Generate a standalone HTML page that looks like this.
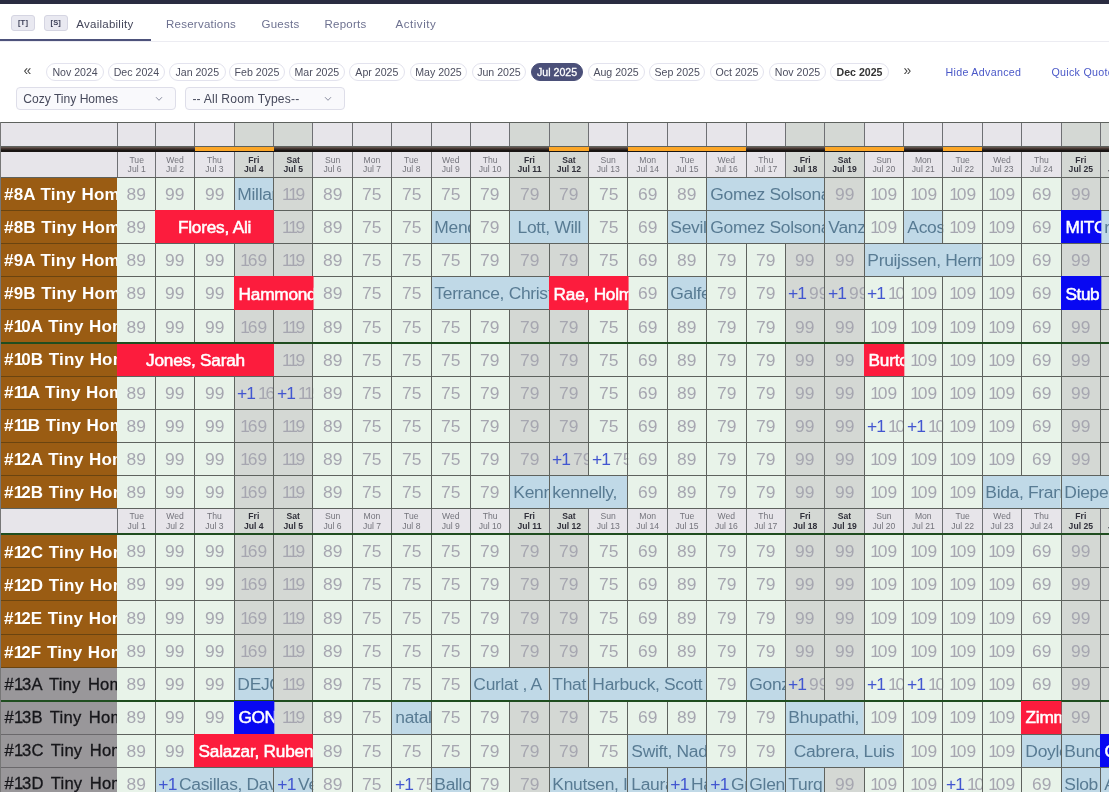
<!DOCTYPE html>
<html lang="en"><head><meta charset="utf-8"><title>Availability</title>
<style>
html,body{margin:0;padding:0;background:#fff}
body{width:1109px;height:792px;overflow:hidden;position:relative;font-family:"Liberation Sans",Arial,sans-serif;color:#333}
div,span,a{box-sizing:border-box}
.abs,.c,.p,.res,.lab,.hc,.vl,.hl,.we,.pill,.tab{position:absolute}
#topbar{left:0;top:0;width:1109px;height:3.5px;background:#2a2c41}
.kbd{position:absolute;top:15px;height:16px;border:1px solid #d5d5e2;border-radius:3px;background:#e9e9f1;font-size:7.5px;font-weight:bold;color:#3a3d55;text-align:center;line-height:14px;letter-spacing:.2px}
.tab{top:15.5px;letter-spacing:.25px;font-size:11.5px;line-height:16px;color:#6d7190;white-space:nowrap}
.tab.on{color:#44465a}
#tabline{left:0;top:41px;width:1109px;height:1px;background:#ececf2}
#tabul{left:0;top:39px;width:151px;height:2.4px;background:#4d527b}
.pill{top:63px;height:18px;border:1px solid #e3e3ee;border-radius:9px;font-size:10.6px;line-height:16.5px;color:#4d4f60;text-align:center;white-space:nowrap;background:#fff}
.pill.on{background:#4b5079;border-color:#4b5079;color:#fff;-webkit-text-stroke:.3px #fff}
.pill.b{font-weight:bold;color:#333}
.nav{position:absolute;top:61.2px;font-size:14px;line-height:18px;color:#444}
.lnk{position:absolute;top:63.8px;font-size:10.7px;letter-spacing:.3px;line-height:16px;color:#4a58c8;white-space:nowrap}
.sel{position:absolute;top:86.5px;height:23.5px;border:1px solid #dedee9;border-radius:4px;background:#f9f9fc;font-size:12.1px;line-height:23px;color:#474a5c;padding-left:6px;white-space:nowrap}
.sel svg{position:absolute;top:8px}
#grid{left:0;top:0;width:1109px;height:792px;overflow:hidden}
.c{background:#e8f3e9;overflow:hidden}
.p{font-size:16px;color:#a6a6b0;text-align:center;white-space:nowrap;overflow:hidden;line-height:1;transform-origin:0 0;transform:scaleX(1.09)}
.p b{font-weight:normal;color:#4256d0;letter-spacing:-.8px}
.p u{text-decoration:none;letter-spacing:-2.1px}
.p b u,.res.b i u{letter-spacing:-2.6px}
.res{overflow:hidden;white-space:nowrap;font-size:16px;line-height:1;padding-left:3.1px;transform-origin:0 0;transform:scaleX(1.09)}
.res.b{background:#c0d9e7;color:#587b93;letter-spacing:-.3px}
.res.b i{font-style:normal;color:#4256d0;letter-spacing:-.8px}
.res u{text-decoration:none;letter-spacing:-2.1px}
.res.r{background:#fc1c3d;color:#fff;font-size:15.8px;letter-spacing:-.2px;-webkit-text-stroke:.5px #fff}
.res.d{background:#0808f2;color:#fff;font-size:15.8px;letter-spacing:-.4px;-webkit-text-stroke:.5px #fff}
.res.ctr{text-align:center;padding-left:0}
.res.r,.res.d{padding-left:4.2px}
.res.r.ctr{padding-left:0}
.lab{left:0;width:117px;overflow:hidden;white-space:nowrap;font-weight:bold;font-size:17px;color:#fff;background:#9a5c13;padding-left:4px;line-height:17.5px;word-spacing:.5px;letter-spacing:.2px}
.lab u{text-decoration:none;letter-spacing:-1.9px}
.lab.g u{letter-spacing:-1.2px}
.lab.g{background:#99979a;color:#16161a;font-weight:normal;font-size:16.6px;line-height:17.5px;-webkit-text-stroke:.3px #16161a;word-spacing:2.6px;letter-spacing:.2px;padding-left:4.6px}
.hc{background:#e7e5ea;text-align:center;font-size:8.6px;line-height:9.9px;color:#74747c;overflow:hidden;white-space:nowrap}
.hc.w{font-weight:bold;color:#30303a;background:#d4d8d4}
.vl{width:1px;background:#5e625e}
.hl{left:0;width:1109px;height:1px;background:#5e625e}
.hl.t{height:2px;background:#1f4d1f}
.we{background:#d4d8d4}
</style></head><body>

<div class="abs" id="topbar"></div>
<div class="kbd" style="left:11px;width:24px">[T]</div>
<div class="kbd" style="left:43.5px;width:24.5px">[S]</div>
<div class="tab on" style="left:76.3px">Availability</div>
<div class="tab" style="left:166px">Reservations</div>
<div class="tab" style="left:261.5px">Guests</div>
<div class="tab" style="left:324.5px">Reports</div>
<div class="tab" style="left:395.5px;letter-spacing:.55px">Activity</div>
<div class="abs" id="tabline"></div><div class="abs" id="tabul"></div>
<div class="nav" style="left:23.5px">&laquo;</div>
<div class="pill " style="left:46px;width:58.2px">Nov 2024</div>
<div class="pill " style="left:107.8px;width:57.2px">Dec 2024</div>
<div class="pill " style="left:168.7px;width:57.1px">Jan 2025</div>
<div class="pill " style="left:229.3px;width:55.4px">Feb 2025</div>
<div class="pill " style="left:289px;width:55.7px">Mar 2025</div>
<div class="pill " style="left:349px;width:55.7px">Apr 2025</div>
<div class="pill " style="left:409.6px;width:57.7px">May 2025</div>
<div class="pill " style="left:471.5px;width:54.9px">Jun 2025</div>
<div class="pill on" style="left:530.7px;width:52.8px">Jul 2025</div>
<div class="pill " style="left:587.5px;width:57.2px">Aug 2025</div>
<div class="pill " style="left:649px;width:56.3px">Sep 2025</div>
<div class="pill " style="left:709.6px;width:54.8px">Oct 2025</div>
<div class="pill " style="left:769px;width:57px">Nov 2025</div>
<div class="pill b" style="left:829.8px;width:59.4px">Dec 2025</div>
<div class="nav" style="left:903.5px">&raquo;</div>
<div class="lnk" style="left:945.5px">Hide Advanced</div>
<div class="lnk" style="left:1051.4px">Quick Quote</div>
<div class="sel" style="left:16.2px;width:160.2px">Cozy Tiny Homes<svg width="8" height="6" viewBox="0 0 8 6" style="left:138px"><path d="M1 1.2 L4 4.3 L7 1.2" fill="none" stroke="#8a8da0" stroke-width="1"/></svg></div>
<div class="sel" style="left:185.4px;width:160px;letter-spacing:.2px">-- All Room Types--<svg width="8" height="6" viewBox="0 0 8 6" style="left:138px"><path d="M1 1.2 L4 4.3 L7 1.2" fill="none" stroke="#8a8da0" stroke-width="1"/></svg></div>
<div class="abs" id="grid">
<div class="hc" style="left:0;top:122.3px;width:1109px;height:24.2px"></div>
<div class="we" style="left:234.14px;top:122.3px;width:39.38px;height:24.2px"></div>
<div class="we" style="left:273.52px;top:122.3px;width:39.38px;height:24.2px"></div>
<div class="we" style="left:509.8px;top:122.3px;width:39.38px;height:24.2px"></div>
<div class="we" style="left:549.18px;top:122.3px;width:39.38px;height:24.2px"></div>
<div class="we" style="left:785.46px;top:122.3px;width:39.38px;height:24.2px"></div>
<div class="we" style="left:824.84px;top:122.3px;width:39.38px;height:24.2px"></div>
<div class="we" style="left:1061.12px;top:122.3px;width:39.38px;height:24.2px"></div>
<div class="we" style="left:1100.5px;top:122.3px;width:39.38px;height:24.2px"></div>
<div class="abs" style="left:0;top:146.2px;width:1109px;height:5.4px;background:linear-gradient(#8a7b74 0%,#4a3b35 40%,#191513 75%,#191513 100%)"></div>
<div class="abs" style="left:194.76px;top:146.5px;width:39.38px;height:4.8px;background:#fba628"></div>
<div class="abs" style="left:234.14px;top:146.5px;width:39.38px;height:4.8px;background:#fba628"></div>
<div class="abs" style="left:549.18px;top:146.5px;width:39.38px;height:4.8px;background:#fba628"></div>
<div class="abs" style="left:627.94px;top:146.5px;width:39.38px;height:4.8px;background:#fba628"></div>
<div class="abs" style="left:667.32px;top:146.5px;width:39.38px;height:4.8px;background:#fba628"></div>
<div class="abs" style="left:706.7px;top:146.5px;width:39.38px;height:4.8px;background:#fba628"></div>
<div class="abs" style="left:824.84px;top:146.5px;width:39.38px;height:4.8px;background:#fba628"></div>
<div class="abs" style="left:864.22px;top:146.5px;width:39.38px;height:4.8px;background:#fba628"></div>
<div class="abs" style="left:942.98px;top:146.5px;width:39.38px;height:4.8px;background:#fba628"></div>
<div class="hc" style="left:0;top:151.6px;width:117px;height:25.9px"></div>
<div class="hc" style="left:117px;top:151.6px;width:39.38px;height:25.9px;padding-top:3.95px">Tue<br>Jul 1</div>
<div class="hc" style="left:155.38px;top:151.6px;width:39.38px;height:25.9px;padding-top:3.95px">Wed<br>Jul 2</div>
<div class="hc" style="left:194.76px;top:151.6px;width:39.38px;height:25.9px;padding-top:3.95px">Thu<br>Jul 3</div>
<div class="hc w" style="left:234.14px;top:151.6px;width:39.38px;height:25.9px;padding-top:3.95px">Fri<br>Jul 4</div>
<div class="hc w" style="left:273.52px;top:151.6px;width:39.38px;height:25.9px;padding-top:3.95px">Sat<br>Jul 5</div>
<div class="hc" style="left:312.9px;top:151.6px;width:39.38px;height:25.9px;padding-top:3.95px">Sun<br>Jul 6</div>
<div class="hc" style="left:352.28px;top:151.6px;width:39.38px;height:25.9px;padding-top:3.95px">Mon<br>Jul 7</div>
<div class="hc" style="left:391.66px;top:151.6px;width:39.38px;height:25.9px;padding-top:3.95px">Tue<br>Jul 8</div>
<div class="hc" style="left:431.04px;top:151.6px;width:39.38px;height:25.9px;padding-top:3.95px">Wed<br>Jul 9</div>
<div class="hc" style="left:470.42px;top:151.6px;width:39.38px;height:25.9px;padding-top:3.95px">Thu<br>Jul 10</div>
<div class="hc w" style="left:509.8px;top:151.6px;width:39.38px;height:25.9px;padding-top:3.95px">Fri<br>Jul 11</div>
<div class="hc w" style="left:549.18px;top:151.6px;width:39.38px;height:25.9px;padding-top:3.95px">Sat<br>Jul 12</div>
<div class="hc" style="left:588.56px;top:151.6px;width:39.38px;height:25.9px;padding-top:3.95px">Sun<br>Jul 13</div>
<div class="hc" style="left:627.94px;top:151.6px;width:39.38px;height:25.9px;padding-top:3.95px">Mon<br>Jul 14</div>
<div class="hc" style="left:667.32px;top:151.6px;width:39.38px;height:25.9px;padding-top:3.95px">Tue<br>Jul 15</div>
<div class="hc" style="left:706.7px;top:151.6px;width:39.38px;height:25.9px;padding-top:3.95px">Wed<br>Jul 16</div>
<div class="hc" style="left:746.08px;top:151.6px;width:39.38px;height:25.9px;padding-top:3.95px">Thu<br>Jul 17</div>
<div class="hc w" style="left:785.46px;top:151.6px;width:39.38px;height:25.9px;padding-top:3.95px">Fri<br>Jul 18</div>
<div class="hc w" style="left:824.84px;top:151.6px;width:39.38px;height:25.9px;padding-top:3.95px">Sat<br>Jul 19</div>
<div class="hc" style="left:864.22px;top:151.6px;width:39.38px;height:25.9px;padding-top:3.95px">Sun<br>Jul 20</div>
<div class="hc" style="left:903.6px;top:151.6px;width:39.38px;height:25.9px;padding-top:3.95px">Mon<br>Jul 21</div>
<div class="hc" style="left:942.98px;top:151.6px;width:39.38px;height:25.9px;padding-top:3.95px">Tue<br>Jul 22</div>
<div class="hc" style="left:982.36px;top:151.6px;width:39.38px;height:25.9px;padding-top:3.95px">Wed<br>Jul 23</div>
<div class="hc" style="left:1021.74px;top:151.6px;width:39.38px;height:25.9px;padding-top:3.95px">Thu<br>Jul 24</div>
<div class="hc w" style="left:1061.12px;top:151.6px;width:39.38px;height:25.9px;padding-top:3.95px">Fri<br>Jul 25</div>
<div class="hc w" style="left:1100.5px;top:151.6px;width:39.38px;height:25.9px;padding-top:3.95px">Sat<br>Jul 26</div>
<div class="hc" style="left:0;top:508.6px;width:117px;height:25.7px"></div>
<div class="hc" style="left:117px;top:508.6px;width:39.38px;height:25.7px;padding-top:3.85px">Tue<br>Jul 1</div>
<div class="hc" style="left:155.38px;top:508.6px;width:39.38px;height:25.7px;padding-top:3.85px">Wed<br>Jul 2</div>
<div class="hc" style="left:194.76px;top:508.6px;width:39.38px;height:25.7px;padding-top:3.85px">Thu<br>Jul 3</div>
<div class="hc w" style="left:234.14px;top:508.6px;width:39.38px;height:25.7px;padding-top:3.85px">Fri<br>Jul 4</div>
<div class="hc w" style="left:273.52px;top:508.6px;width:39.38px;height:25.7px;padding-top:3.85px">Sat<br>Jul 5</div>
<div class="hc" style="left:312.9px;top:508.6px;width:39.38px;height:25.7px;padding-top:3.85px">Sun<br>Jul 6</div>
<div class="hc" style="left:352.28px;top:508.6px;width:39.38px;height:25.7px;padding-top:3.85px">Mon<br>Jul 7</div>
<div class="hc" style="left:391.66px;top:508.6px;width:39.38px;height:25.7px;padding-top:3.85px">Tue<br>Jul 8</div>
<div class="hc" style="left:431.04px;top:508.6px;width:39.38px;height:25.7px;padding-top:3.85px">Wed<br>Jul 9</div>
<div class="hc" style="left:470.42px;top:508.6px;width:39.38px;height:25.7px;padding-top:3.85px">Thu<br>Jul 10</div>
<div class="hc w" style="left:509.8px;top:508.6px;width:39.38px;height:25.7px;padding-top:3.85px">Fri<br>Jul 11</div>
<div class="hc w" style="left:549.18px;top:508.6px;width:39.38px;height:25.7px;padding-top:3.85px">Sat<br>Jul 12</div>
<div class="hc" style="left:588.56px;top:508.6px;width:39.38px;height:25.7px;padding-top:3.85px">Sun<br>Jul 13</div>
<div class="hc" style="left:627.94px;top:508.6px;width:39.38px;height:25.7px;padding-top:3.85px">Mon<br>Jul 14</div>
<div class="hc" style="left:667.32px;top:508.6px;width:39.38px;height:25.7px;padding-top:3.85px">Tue<br>Jul 15</div>
<div class="hc" style="left:706.7px;top:508.6px;width:39.38px;height:25.7px;padding-top:3.85px">Wed<br>Jul 16</div>
<div class="hc" style="left:746.08px;top:508.6px;width:39.38px;height:25.7px;padding-top:3.85px">Thu<br>Jul 17</div>
<div class="hc w" style="left:785.46px;top:508.6px;width:39.38px;height:25.7px;padding-top:3.85px">Fri<br>Jul 18</div>
<div class="hc w" style="left:824.84px;top:508.6px;width:39.38px;height:25.7px;padding-top:3.85px">Sat<br>Jul 19</div>
<div class="hc" style="left:864.22px;top:508.6px;width:39.38px;height:25.7px;padding-top:3.85px">Sun<br>Jul 20</div>
<div class="hc" style="left:903.6px;top:508.6px;width:39.38px;height:25.7px;padding-top:3.85px">Mon<br>Jul 21</div>
<div class="hc" style="left:942.98px;top:508.6px;width:39.38px;height:25.7px;padding-top:3.85px">Tue<br>Jul 22</div>
<div class="hc" style="left:982.36px;top:508.6px;width:39.38px;height:25.7px;padding-top:3.85px">Wed<br>Jul 23</div>
<div class="hc" style="left:1021.74px;top:508.6px;width:39.38px;height:25.7px;padding-top:3.85px">Thu<br>Jul 24</div>
<div class="hc w" style="left:1061.12px;top:508.6px;width:39.38px;height:25.7px;padding-top:3.85px">Fri<br>Jul 25</div>
<div class="hc w" style="left:1100.5px;top:508.6px;width:39.38px;height:25.7px;padding-top:3.85px">Sat<br>Jul 26</div>
<div class="lab" style="top:177.5px;height:33.11px;padding-top:8.21px">#8A Tiny Home</div>
<div class="c" style="left:117px;top:177.5px;width:992px;height:33.11px"></div>
<div class="we" style="left:234.14px;top:177.5px;width:39.38px;height:33.11px"></div>
<div class="we" style="left:273.52px;top:177.5px;width:39.38px;height:33.11px"></div>
<div class="we" style="left:509.8px;top:177.5px;width:39.38px;height:33.11px"></div>
<div class="we" style="left:549.18px;top:177.5px;width:39.38px;height:33.11px"></div>
<div class="we" style="left:785.46px;top:177.5px;width:39.38px;height:33.11px"></div>
<div class="we" style="left:824.84px;top:177.5px;width:39.38px;height:33.11px"></div>
<div class="we" style="left:1061.12px;top:177.5px;width:39.38px;height:33.11px"></div>
<div class="we" style="left:1100.5px;top:177.5px;width:39.38px;height:33.11px"></div>
<div class="p" style="left:117px;top:187.1px;width:35.21px">89</div>
<div class="p" style="left:155.38px;top:187.1px;width:36.13px">99</div>
<div class="p" style="left:194.76px;top:187.1px;width:36.13px">99</div>
<div class="p" style="left:273.52px;top:187.1px;width:36.13px"><u>1</u><u>1</u>9</div>
<div class="p" style="left:312.9px;top:187.1px;width:36.13px">89</div>
<div class="p" style="left:352.28px;top:187.1px;width:36.13px">75</div>
<div class="p" style="left:391.66px;top:187.1px;width:36.13px">75</div>
<div class="p" style="left:431.04px;top:187.1px;width:36.13px">75</div>
<div class="p" style="left:470.42px;top:187.1px;width:36.13px">79</div>
<div class="p" style="left:509.8px;top:187.1px;width:36.13px">79</div>
<div class="p" style="left:549.18px;top:187.1px;width:36.13px">79</div>
<div class="p" style="left:588.56px;top:187.1px;width:36.13px">75</div>
<div class="p" style="left:627.94px;top:187.1px;width:36.13px">69</div>
<div class="p" style="left:667.32px;top:187.1px;width:36.13px">89</div>
<div class="p" style="left:824.84px;top:187.1px;width:36.13px">99</div>
<div class="p" style="left:864.22px;top:187.1px;width:36.13px"><u>1</u>09</div>
<div class="p" style="left:903.6px;top:187.1px;width:36.13px"><u>1</u>09</div>
<div class="p" style="left:942.98px;top:187.1px;width:36.13px"><u>1</u>09</div>
<div class="p" style="left:982.36px;top:187.1px;width:36.13px"><u>1</u>09</div>
<div class="p" style="left:1021.74px;top:187.1px;width:36.13px">69</div>
<div class="p" style="left:1061.12px;top:187.1px;width:36.13px">99</div>
<div class="p" style="left:1100.5px;top:187.1px;width:36.13px">99</div>
<div class="res b" style="left:234.14px;top:177.5px;width:36.13px;height:33.11px;padding-top:9.6px">Millar</div>
<div class="res b" style="left:706.7px;top:177.5px;width:108.39px;height:33.11px;padding-top:9.6px">Gomez Solsona</div>
<div class="lab" style="top:210.61px;height:33.11px;padding-top:8.21px">#8B Tiny Home</div>
<div class="c" style="left:117px;top:210.61px;width:992px;height:33.11px"></div>
<div class="we" style="left:234.14px;top:210.61px;width:39.38px;height:33.11px"></div>
<div class="we" style="left:273.52px;top:210.61px;width:39.38px;height:33.11px"></div>
<div class="we" style="left:509.8px;top:210.61px;width:39.38px;height:33.11px"></div>
<div class="we" style="left:549.18px;top:210.61px;width:39.38px;height:33.11px"></div>
<div class="we" style="left:785.46px;top:210.61px;width:39.38px;height:33.11px"></div>
<div class="we" style="left:824.84px;top:210.61px;width:39.38px;height:33.11px"></div>
<div class="we" style="left:1061.12px;top:210.61px;width:39.38px;height:33.11px"></div>
<div class="we" style="left:1100.5px;top:210.61px;width:39.38px;height:33.11px"></div>
<div class="p" style="left:117px;top:220.21px;width:35.21px">89</div>
<div class="p" style="left:273.52px;top:220.21px;width:36.13px"><u>1</u><u>1</u>9</div>
<div class="p" style="left:312.9px;top:220.21px;width:36.13px">89</div>
<div class="p" style="left:352.28px;top:220.21px;width:36.13px">75</div>
<div class="p" style="left:391.66px;top:220.21px;width:36.13px">75</div>
<div class="p" style="left:470.42px;top:220.21px;width:36.13px">79</div>
<div class="p" style="left:588.56px;top:220.21px;width:36.13px">75</div>
<div class="p" style="left:627.94px;top:220.21px;width:36.13px">69</div>
<div class="p" style="left:864.22px;top:220.21px;width:36.13px"><u>1</u>09</div>
<div class="p" style="left:942.98px;top:220.21px;width:36.13px"><u>1</u>09</div>
<div class="p" style="left:982.36px;top:220.21px;width:36.13px"><u>1</u>09</div>
<div class="p" style="left:1021.74px;top:220.21px;width:36.13px">69</div>
<div class="res b" style="left:431.04px;top:210.61px;width:36.13px;height:33.11px;padding-top:9.6px">Mendez</div>
<div class="res b ctr" style="left:509.8px;top:210.61px;width:72.26px;height:33.11px;padding-top:9.6px">Lott, Will</div>
<div class="res b" style="left:667.32px;top:210.61px;width:36.13px;height:33.11px;padding-top:9.6px">Sevilla</div>
<div class="res b" style="left:706.7px;top:210.61px;width:108.39px;height:33.11px;padding-top:9.6px">Gomez Solsona</div>
<div class="res b" style="left:824.84px;top:210.61px;width:36.13px;height:33.11px;padding-top:9.6px">Vanzant</div>
<div class="res b" style="left:903.6px;top:210.61px;width:36.13px;height:33.11px;padding-top:9.6px">Acosta</div>
<div class="res b" style="left:1100.5px;top:210.61px;width:36.13px;height:33.11px;padding-top:9.6px">ramos</div>
<div class="lab" style="top:243.72px;height:33.11px;padding-top:8.21px">#9A Tiny Home</div>
<div class="c" style="left:117px;top:243.72px;width:992px;height:33.11px"></div>
<div class="we" style="left:234.14px;top:243.72px;width:39.38px;height:33.11px"></div>
<div class="we" style="left:273.52px;top:243.72px;width:39.38px;height:33.11px"></div>
<div class="we" style="left:509.8px;top:243.72px;width:39.38px;height:33.11px"></div>
<div class="we" style="left:549.18px;top:243.72px;width:39.38px;height:33.11px"></div>
<div class="we" style="left:785.46px;top:243.72px;width:39.38px;height:33.11px"></div>
<div class="we" style="left:824.84px;top:243.72px;width:39.38px;height:33.11px"></div>
<div class="we" style="left:1061.12px;top:243.72px;width:39.38px;height:33.11px"></div>
<div class="we" style="left:1100.5px;top:243.72px;width:39.38px;height:33.11px"></div>
<div class="p" style="left:117px;top:253.32px;width:35.21px">89</div>
<div class="p" style="left:155.38px;top:253.32px;width:36.13px">99</div>
<div class="p" style="left:194.76px;top:253.32px;width:36.13px">99</div>
<div class="p" style="left:234.14px;top:253.32px;width:36.13px"><u>1</u>69</div>
<div class="p" style="left:273.52px;top:253.32px;width:36.13px"><u>1</u><u>1</u>9</div>
<div class="p" style="left:312.9px;top:253.32px;width:36.13px">89</div>
<div class="p" style="left:352.28px;top:253.32px;width:36.13px">75</div>
<div class="p" style="left:391.66px;top:253.32px;width:36.13px">75</div>
<div class="p" style="left:431.04px;top:253.32px;width:36.13px">75</div>
<div class="p" style="left:470.42px;top:253.32px;width:36.13px">79</div>
<div class="p" style="left:509.8px;top:253.32px;width:36.13px">79</div>
<div class="p" style="left:549.18px;top:253.32px;width:36.13px">79</div>
<div class="p" style="left:588.56px;top:253.32px;width:36.13px">75</div>
<div class="p" style="left:627.94px;top:253.32px;width:36.13px">69</div>
<div class="p" style="left:667.32px;top:253.32px;width:36.13px">89</div>
<div class="p" style="left:706.7px;top:253.32px;width:36.13px">79</div>
<div class="p" style="left:746.08px;top:253.32px;width:36.13px">79</div>
<div class="p" style="left:785.46px;top:253.32px;width:36.13px">99</div>
<div class="p" style="left:824.84px;top:253.32px;width:36.13px">99</div>
<div class="p" style="left:982.36px;top:253.32px;width:36.13px"><u>1</u>09</div>
<div class="p" style="left:1021.74px;top:253.32px;width:36.13px">69</div>
<div class="p" style="left:1061.12px;top:253.32px;width:36.13px">99</div>
<div class="p" style="left:1100.5px;top:253.32px;width:36.13px">99</div>
<div class="res b" style="left:864.22px;top:243.72px;width:108.39px;height:33.11px;padding-top:9.6px">Pruijssen, Herman</div>
<div class="lab" style="top:276.83px;height:33.11px;padding-top:8.21px">#9B Tiny Home</div>
<div class="c" style="left:117px;top:276.83px;width:992px;height:33.11px"></div>
<div class="we" style="left:234.14px;top:276.83px;width:39.38px;height:33.11px"></div>
<div class="we" style="left:273.52px;top:276.83px;width:39.38px;height:33.11px"></div>
<div class="we" style="left:509.8px;top:276.83px;width:39.38px;height:33.11px"></div>
<div class="we" style="left:549.18px;top:276.83px;width:39.38px;height:33.11px"></div>
<div class="we" style="left:785.46px;top:276.83px;width:39.38px;height:33.11px"></div>
<div class="we" style="left:824.84px;top:276.83px;width:39.38px;height:33.11px"></div>
<div class="we" style="left:1061.12px;top:276.83px;width:39.38px;height:33.11px"></div>
<div class="we" style="left:1100.5px;top:276.83px;width:39.38px;height:33.11px"></div>
<div class="p" style="left:117px;top:286.43px;width:35.21px">89</div>
<div class="p" style="left:155.38px;top:286.43px;width:36.13px">99</div>
<div class="p" style="left:194.76px;top:286.43px;width:36.13px">99</div>
<div class="p" style="left:312.9px;top:286.43px;width:36.13px">89</div>
<div class="p" style="left:352.28px;top:286.43px;width:36.13px">75</div>
<div class="p" style="left:391.66px;top:286.43px;width:36.13px">75</div>
<div class="p" style="left:627.94px;top:286.43px;width:36.13px">69</div>
<div class="p" style="left:706.7px;top:286.43px;width:36.13px">79</div>
<div class="p" style="left:746.08px;top:286.43px;width:36.13px">79</div>
<div class="p" style="left:785.46px;top:286.43px;width:36.13px;text-align:left;padding-left:2.8px"><b>+<u>1</u></b> 99</div>
<div class="p" style="left:824.84px;top:286.43px;width:36.13px;text-align:left;padding-left:2.8px"><b>+<u>1</u></b> 99</div>
<div class="p" style="left:864.22px;top:286.43px;width:36.13px;text-align:left;padding-left:2.8px"><b>+<u>1</u></b> <u>1</u>09</div>
<div class="p" style="left:903.6px;top:286.43px;width:36.13px"><u>1</u>09</div>
<div class="p" style="left:942.98px;top:286.43px;width:36.13px"><u>1</u>09</div>
<div class="p" style="left:982.36px;top:286.43px;width:36.13px"><u>1</u>09</div>
<div class="p" style="left:1021.74px;top:286.43px;width:36.13px">69</div>
<div class="p" style="left:1100.5px;top:286.43px;width:36.13px">99</div>
<div class="res b" style="left:431.04px;top:276.83px;width:108.39px;height:33.11px;padding-top:9.6px">Terrance, Christopher</div>
<div class="res b" style="left:667.32px;top:276.83px;width:36.13px;height:33.11px;padding-top:9.6px">Galfetti</div>
<div class="lab" style="top:309.94px;height:33.11px;padding-top:8.21px">#<u>1</u>0A Tiny Home</div>
<div class="c" style="left:117px;top:309.94px;width:992px;height:33.11px"></div>
<div class="we" style="left:234.14px;top:309.94px;width:39.38px;height:33.11px"></div>
<div class="we" style="left:273.52px;top:309.94px;width:39.38px;height:33.11px"></div>
<div class="we" style="left:509.8px;top:309.94px;width:39.38px;height:33.11px"></div>
<div class="we" style="left:549.18px;top:309.94px;width:39.38px;height:33.11px"></div>
<div class="we" style="left:785.46px;top:309.94px;width:39.38px;height:33.11px"></div>
<div class="we" style="left:824.84px;top:309.94px;width:39.38px;height:33.11px"></div>
<div class="we" style="left:1061.12px;top:309.94px;width:39.38px;height:33.11px"></div>
<div class="we" style="left:1100.5px;top:309.94px;width:39.38px;height:33.11px"></div>
<div class="p" style="left:117px;top:319.54px;width:35.21px">89</div>
<div class="p" style="left:155.38px;top:319.54px;width:36.13px">99</div>
<div class="p" style="left:194.76px;top:319.54px;width:36.13px">99</div>
<div class="p" style="left:234.14px;top:319.54px;width:36.13px"><u>1</u>69</div>
<div class="p" style="left:273.52px;top:319.54px;width:36.13px"><u>1</u><u>1</u>9</div>
<div class="p" style="left:312.9px;top:319.54px;width:36.13px">89</div>
<div class="p" style="left:352.28px;top:319.54px;width:36.13px">75</div>
<div class="p" style="left:391.66px;top:319.54px;width:36.13px">75</div>
<div class="p" style="left:431.04px;top:319.54px;width:36.13px">75</div>
<div class="p" style="left:470.42px;top:319.54px;width:36.13px">79</div>
<div class="p" style="left:509.8px;top:319.54px;width:36.13px">79</div>
<div class="p" style="left:549.18px;top:319.54px;width:36.13px">79</div>
<div class="p" style="left:588.56px;top:319.54px;width:36.13px">75</div>
<div class="p" style="left:627.94px;top:319.54px;width:36.13px">69</div>
<div class="p" style="left:667.32px;top:319.54px;width:36.13px">89</div>
<div class="p" style="left:706.7px;top:319.54px;width:36.13px">79</div>
<div class="p" style="left:746.08px;top:319.54px;width:36.13px">79</div>
<div class="p" style="left:785.46px;top:319.54px;width:36.13px">99</div>
<div class="p" style="left:824.84px;top:319.54px;width:36.13px">99</div>
<div class="p" style="left:864.22px;top:319.54px;width:36.13px"><u>1</u>09</div>
<div class="p" style="left:903.6px;top:319.54px;width:36.13px"><u>1</u>09</div>
<div class="p" style="left:942.98px;top:319.54px;width:36.13px"><u>1</u>09</div>
<div class="p" style="left:982.36px;top:319.54px;width:36.13px"><u>1</u>09</div>
<div class="p" style="left:1021.74px;top:319.54px;width:36.13px">69</div>
<div class="p" style="left:1061.12px;top:319.54px;width:36.13px">99</div>
<div class="p" style="left:1100.5px;top:319.54px;width:36.13px">99</div>
<div class="lab" style="top:343.05px;height:33.11px;padding-top:8.21px">#<u>1</u>0B Tiny Home</div>
<div class="c" style="left:117px;top:343.05px;width:992px;height:33.11px"></div>
<div class="we" style="left:234.14px;top:343.05px;width:39.38px;height:33.11px"></div>
<div class="we" style="left:273.52px;top:343.05px;width:39.38px;height:33.11px"></div>
<div class="we" style="left:509.8px;top:343.05px;width:39.38px;height:33.11px"></div>
<div class="we" style="left:549.18px;top:343.05px;width:39.38px;height:33.11px"></div>
<div class="we" style="left:785.46px;top:343.05px;width:39.38px;height:33.11px"></div>
<div class="we" style="left:824.84px;top:343.05px;width:39.38px;height:33.11px"></div>
<div class="we" style="left:1061.12px;top:343.05px;width:39.38px;height:33.11px"></div>
<div class="we" style="left:1100.5px;top:343.05px;width:39.38px;height:33.11px"></div>
<div class="p" style="left:273.52px;top:352.65px;width:36.13px"><u>1</u><u>1</u>9</div>
<div class="p" style="left:312.9px;top:352.65px;width:36.13px">89</div>
<div class="p" style="left:352.28px;top:352.65px;width:36.13px">75</div>
<div class="p" style="left:391.66px;top:352.65px;width:36.13px">75</div>
<div class="p" style="left:431.04px;top:352.65px;width:36.13px">75</div>
<div class="p" style="left:470.42px;top:352.65px;width:36.13px">79</div>
<div class="p" style="left:509.8px;top:352.65px;width:36.13px">79</div>
<div class="p" style="left:549.18px;top:352.65px;width:36.13px">79</div>
<div class="p" style="left:588.56px;top:352.65px;width:36.13px">75</div>
<div class="p" style="left:627.94px;top:352.65px;width:36.13px">69</div>
<div class="p" style="left:667.32px;top:352.65px;width:36.13px">89</div>
<div class="p" style="left:706.7px;top:352.65px;width:36.13px">79</div>
<div class="p" style="left:746.08px;top:352.65px;width:36.13px">79</div>
<div class="p" style="left:785.46px;top:352.65px;width:36.13px">99</div>
<div class="p" style="left:824.84px;top:352.65px;width:36.13px">99</div>
<div class="p" style="left:903.6px;top:352.65px;width:36.13px"><u>1</u>09</div>
<div class="p" style="left:942.98px;top:352.65px;width:36.13px"><u>1</u>09</div>
<div class="p" style="left:982.36px;top:352.65px;width:36.13px"><u>1</u>09</div>
<div class="p" style="left:1021.74px;top:352.65px;width:36.13px">69</div>
<div class="p" style="left:1061.12px;top:352.65px;width:36.13px">99</div>
<div class="p" style="left:1100.5px;top:352.65px;width:36.13px">99</div>
<div class="lab" style="top:376.16px;height:33.11px;padding-top:8.21px">#<u>1</u><u>1</u>A Tiny Home</div>
<div class="c" style="left:117px;top:376.16px;width:992px;height:33.11px"></div>
<div class="we" style="left:234.14px;top:376.16px;width:39.38px;height:33.11px"></div>
<div class="we" style="left:273.52px;top:376.16px;width:39.38px;height:33.11px"></div>
<div class="we" style="left:509.8px;top:376.16px;width:39.38px;height:33.11px"></div>
<div class="we" style="left:549.18px;top:376.16px;width:39.38px;height:33.11px"></div>
<div class="we" style="left:785.46px;top:376.16px;width:39.38px;height:33.11px"></div>
<div class="we" style="left:824.84px;top:376.16px;width:39.38px;height:33.11px"></div>
<div class="we" style="left:1061.12px;top:376.16px;width:39.38px;height:33.11px"></div>
<div class="we" style="left:1100.5px;top:376.16px;width:39.38px;height:33.11px"></div>
<div class="p" style="left:117px;top:385.76px;width:35.21px">89</div>
<div class="p" style="left:155.38px;top:385.76px;width:36.13px">99</div>
<div class="p" style="left:194.76px;top:385.76px;width:36.13px">99</div>
<div class="p" style="left:234.14px;top:385.76px;width:36.13px;text-align:left;padding-left:2.8px"><b>+<u>1</u></b> <u>1</u>69</div>
<div class="p" style="left:273.52px;top:385.76px;width:36.13px;text-align:left;padding-left:2.8px"><b>+<u>1</u></b> <u>1</u><u>1</u>9</div>
<div class="p" style="left:312.9px;top:385.76px;width:36.13px">89</div>
<div class="p" style="left:352.28px;top:385.76px;width:36.13px">75</div>
<div class="p" style="left:391.66px;top:385.76px;width:36.13px">75</div>
<div class="p" style="left:431.04px;top:385.76px;width:36.13px">75</div>
<div class="p" style="left:470.42px;top:385.76px;width:36.13px">79</div>
<div class="p" style="left:509.8px;top:385.76px;width:36.13px">79</div>
<div class="p" style="left:549.18px;top:385.76px;width:36.13px">79</div>
<div class="p" style="left:588.56px;top:385.76px;width:36.13px">75</div>
<div class="p" style="left:627.94px;top:385.76px;width:36.13px">69</div>
<div class="p" style="left:667.32px;top:385.76px;width:36.13px">89</div>
<div class="p" style="left:706.7px;top:385.76px;width:36.13px">79</div>
<div class="p" style="left:746.08px;top:385.76px;width:36.13px">79</div>
<div class="p" style="left:785.46px;top:385.76px;width:36.13px">99</div>
<div class="p" style="left:824.84px;top:385.76px;width:36.13px">99</div>
<div class="p" style="left:864.22px;top:385.76px;width:36.13px"><u>1</u>09</div>
<div class="p" style="left:903.6px;top:385.76px;width:36.13px"><u>1</u>09</div>
<div class="p" style="left:942.98px;top:385.76px;width:36.13px"><u>1</u>09</div>
<div class="p" style="left:982.36px;top:385.76px;width:36.13px"><u>1</u>09</div>
<div class="p" style="left:1021.74px;top:385.76px;width:36.13px">69</div>
<div class="p" style="left:1061.12px;top:385.76px;width:36.13px">99</div>
<div class="p" style="left:1100.5px;top:385.76px;width:36.13px">99</div>
<div class="lab" style="top:409.27px;height:33.11px;padding-top:8.21px">#<u>1</u><u>1</u>B Tiny Home</div>
<div class="c" style="left:117px;top:409.27px;width:992px;height:33.11px"></div>
<div class="we" style="left:234.14px;top:409.27px;width:39.38px;height:33.11px"></div>
<div class="we" style="left:273.52px;top:409.27px;width:39.38px;height:33.11px"></div>
<div class="we" style="left:509.8px;top:409.27px;width:39.38px;height:33.11px"></div>
<div class="we" style="left:549.18px;top:409.27px;width:39.38px;height:33.11px"></div>
<div class="we" style="left:785.46px;top:409.27px;width:39.38px;height:33.11px"></div>
<div class="we" style="left:824.84px;top:409.27px;width:39.38px;height:33.11px"></div>
<div class="we" style="left:1061.12px;top:409.27px;width:39.38px;height:33.11px"></div>
<div class="we" style="left:1100.5px;top:409.27px;width:39.38px;height:33.11px"></div>
<div class="p" style="left:117px;top:418.87px;width:35.21px">89</div>
<div class="p" style="left:155.38px;top:418.87px;width:36.13px">99</div>
<div class="p" style="left:194.76px;top:418.87px;width:36.13px">99</div>
<div class="p" style="left:234.14px;top:418.87px;width:36.13px"><u>1</u>69</div>
<div class="p" style="left:273.52px;top:418.87px;width:36.13px"><u>1</u><u>1</u>9</div>
<div class="p" style="left:312.9px;top:418.87px;width:36.13px">89</div>
<div class="p" style="left:352.28px;top:418.87px;width:36.13px">75</div>
<div class="p" style="left:391.66px;top:418.87px;width:36.13px">75</div>
<div class="p" style="left:431.04px;top:418.87px;width:36.13px">75</div>
<div class="p" style="left:470.42px;top:418.87px;width:36.13px">79</div>
<div class="p" style="left:509.8px;top:418.87px;width:36.13px">79</div>
<div class="p" style="left:549.18px;top:418.87px;width:36.13px">79</div>
<div class="p" style="left:588.56px;top:418.87px;width:36.13px">75</div>
<div class="p" style="left:627.94px;top:418.87px;width:36.13px">69</div>
<div class="p" style="left:667.32px;top:418.87px;width:36.13px">89</div>
<div class="p" style="left:706.7px;top:418.87px;width:36.13px">79</div>
<div class="p" style="left:746.08px;top:418.87px;width:36.13px">79</div>
<div class="p" style="left:785.46px;top:418.87px;width:36.13px">99</div>
<div class="p" style="left:824.84px;top:418.87px;width:36.13px">99</div>
<div class="p" style="left:864.22px;top:418.87px;width:36.13px;text-align:left;padding-left:2.8px"><b>+<u>1</u></b> <u>1</u>09</div>
<div class="p" style="left:903.6px;top:418.87px;width:36.13px;text-align:left;padding-left:2.8px"><b>+<u>1</u></b> <u>1</u>09</div>
<div class="p" style="left:942.98px;top:418.87px;width:36.13px"><u>1</u>09</div>
<div class="p" style="left:982.36px;top:418.87px;width:36.13px"><u>1</u>09</div>
<div class="p" style="left:1021.74px;top:418.87px;width:36.13px">69</div>
<div class="p" style="left:1061.12px;top:418.87px;width:36.13px">99</div>
<div class="p" style="left:1100.5px;top:418.87px;width:36.13px">99</div>
<div class="lab" style="top:442.38px;height:33.11px;padding-top:8.21px">#<u>1</u>2A Tiny Home</div>
<div class="c" style="left:117px;top:442.38px;width:992px;height:33.11px"></div>
<div class="we" style="left:234.14px;top:442.38px;width:39.38px;height:33.11px"></div>
<div class="we" style="left:273.52px;top:442.38px;width:39.38px;height:33.11px"></div>
<div class="we" style="left:509.8px;top:442.38px;width:39.38px;height:33.11px"></div>
<div class="we" style="left:549.18px;top:442.38px;width:39.38px;height:33.11px"></div>
<div class="we" style="left:785.46px;top:442.38px;width:39.38px;height:33.11px"></div>
<div class="we" style="left:824.84px;top:442.38px;width:39.38px;height:33.11px"></div>
<div class="we" style="left:1061.12px;top:442.38px;width:39.38px;height:33.11px"></div>
<div class="we" style="left:1100.5px;top:442.38px;width:39.38px;height:33.11px"></div>
<div class="p" style="left:117px;top:451.98px;width:35.21px">89</div>
<div class="p" style="left:155.38px;top:451.98px;width:36.13px">99</div>
<div class="p" style="left:194.76px;top:451.98px;width:36.13px">99</div>
<div class="p" style="left:234.14px;top:451.98px;width:36.13px"><u>1</u>69</div>
<div class="p" style="left:273.52px;top:451.98px;width:36.13px"><u>1</u><u>1</u>9</div>
<div class="p" style="left:312.9px;top:451.98px;width:36.13px">89</div>
<div class="p" style="left:352.28px;top:451.98px;width:36.13px">75</div>
<div class="p" style="left:391.66px;top:451.98px;width:36.13px">75</div>
<div class="p" style="left:431.04px;top:451.98px;width:36.13px">75</div>
<div class="p" style="left:470.42px;top:451.98px;width:36.13px">79</div>
<div class="p" style="left:509.8px;top:451.98px;width:36.13px">79</div>
<div class="p" style="left:549.18px;top:451.98px;width:36.13px;text-align:left;padding-left:2.8px"><b>+<u>1</u></b> 79</div>
<div class="p" style="left:588.56px;top:451.98px;width:36.13px;text-align:left;padding-left:2.8px"><b>+<u>1</u></b> 75</div>
<div class="p" style="left:627.94px;top:451.98px;width:36.13px">69</div>
<div class="p" style="left:667.32px;top:451.98px;width:36.13px">89</div>
<div class="p" style="left:706.7px;top:451.98px;width:36.13px">79</div>
<div class="p" style="left:746.08px;top:451.98px;width:36.13px">79</div>
<div class="p" style="left:785.46px;top:451.98px;width:36.13px">99</div>
<div class="p" style="left:824.84px;top:451.98px;width:36.13px">99</div>
<div class="p" style="left:864.22px;top:451.98px;width:36.13px"><u>1</u>09</div>
<div class="p" style="left:903.6px;top:451.98px;width:36.13px"><u>1</u>09</div>
<div class="p" style="left:942.98px;top:451.98px;width:36.13px"><u>1</u>09</div>
<div class="p" style="left:982.36px;top:451.98px;width:36.13px"><u>1</u>09</div>
<div class="p" style="left:1021.74px;top:451.98px;width:36.13px">69</div>
<div class="p" style="left:1061.12px;top:451.98px;width:36.13px">99</div>
<div class="p" style="left:1100.5px;top:451.98px;width:36.13px">99</div>
<div class="lab" style="top:475.49px;height:33.11px;padding-top:8.21px">#<u>1</u>2B Tiny Home</div>
<div class="c" style="left:117px;top:475.49px;width:992px;height:33.11px"></div>
<div class="we" style="left:234.14px;top:475.49px;width:39.38px;height:33.11px"></div>
<div class="we" style="left:273.52px;top:475.49px;width:39.38px;height:33.11px"></div>
<div class="we" style="left:509.8px;top:475.49px;width:39.38px;height:33.11px"></div>
<div class="we" style="left:549.18px;top:475.49px;width:39.38px;height:33.11px"></div>
<div class="we" style="left:785.46px;top:475.49px;width:39.38px;height:33.11px"></div>
<div class="we" style="left:824.84px;top:475.49px;width:39.38px;height:33.11px"></div>
<div class="we" style="left:1061.12px;top:475.49px;width:39.38px;height:33.11px"></div>
<div class="we" style="left:1100.5px;top:475.49px;width:39.38px;height:33.11px"></div>
<div class="p" style="left:117px;top:485.09px;width:35.21px">89</div>
<div class="p" style="left:155.38px;top:485.09px;width:36.13px">99</div>
<div class="p" style="left:194.76px;top:485.09px;width:36.13px">99</div>
<div class="p" style="left:234.14px;top:485.09px;width:36.13px"><u>1</u>69</div>
<div class="p" style="left:273.52px;top:485.09px;width:36.13px"><u>1</u><u>1</u>9</div>
<div class="p" style="left:312.9px;top:485.09px;width:36.13px">89</div>
<div class="p" style="left:352.28px;top:485.09px;width:36.13px">75</div>
<div class="p" style="left:391.66px;top:485.09px;width:36.13px">75</div>
<div class="p" style="left:431.04px;top:485.09px;width:36.13px">75</div>
<div class="p" style="left:470.42px;top:485.09px;width:36.13px">79</div>
<div class="p" style="left:627.94px;top:485.09px;width:36.13px">69</div>
<div class="p" style="left:667.32px;top:485.09px;width:36.13px">89</div>
<div class="p" style="left:706.7px;top:485.09px;width:36.13px">79</div>
<div class="p" style="left:746.08px;top:485.09px;width:36.13px">79</div>
<div class="p" style="left:785.46px;top:485.09px;width:36.13px">99</div>
<div class="p" style="left:824.84px;top:485.09px;width:36.13px">99</div>
<div class="p" style="left:864.22px;top:485.09px;width:36.13px"><u>1</u>09</div>
<div class="p" style="left:903.6px;top:485.09px;width:36.13px"><u>1</u>09</div>
<div class="p" style="left:942.98px;top:485.09px;width:36.13px"><u>1</u>09</div>
<div class="res b" style="left:509.8px;top:475.49px;width:36.13px;height:33.11px;padding-top:9.6px">Kennelly</div>
<div class="res b" style="left:549.18px;top:475.49px;width:72.26px;height:33.11px;padding-top:9.6px">kennelly,</div>
<div class="res b" style="left:982.36px;top:475.49px;width:72.26px;height:33.11px;padding-top:9.6px">Bida, Frank</div>
<div class="res b" style="left:1061.12px;top:475.49px;width:72.26px;height:33.11px;padding-top:9.6px">Diepenbrock</div>
<div class="lab" style="top:534.3px;height:33.3px;padding-top:9.5px">#<u>1</u>2C Tiny Home</div>
<div class="c" style="left:117px;top:534.3px;width:992px;height:33.3px"></div>
<div class="we" style="left:234.14px;top:534.3px;width:39.38px;height:33.3px"></div>
<div class="we" style="left:273.52px;top:534.3px;width:39.38px;height:33.3px"></div>
<div class="we" style="left:509.8px;top:534.3px;width:39.38px;height:33.3px"></div>
<div class="we" style="left:549.18px;top:534.3px;width:39.38px;height:33.3px"></div>
<div class="we" style="left:785.46px;top:534.3px;width:39.38px;height:33.3px"></div>
<div class="we" style="left:824.84px;top:534.3px;width:39.38px;height:33.3px"></div>
<div class="we" style="left:1061.12px;top:534.3px;width:39.38px;height:33.3px"></div>
<div class="we" style="left:1100.5px;top:534.3px;width:39.38px;height:33.3px"></div>
<div class="p" style="left:117px;top:543.9px;width:35.21px">89</div>
<div class="p" style="left:155.38px;top:543.9px;width:36.13px">99</div>
<div class="p" style="left:194.76px;top:543.9px;width:36.13px">99</div>
<div class="p" style="left:234.14px;top:543.9px;width:36.13px"><u>1</u>69</div>
<div class="p" style="left:273.52px;top:543.9px;width:36.13px"><u>1</u><u>1</u>9</div>
<div class="p" style="left:312.9px;top:543.9px;width:36.13px">89</div>
<div class="p" style="left:352.28px;top:543.9px;width:36.13px">75</div>
<div class="p" style="left:391.66px;top:543.9px;width:36.13px">75</div>
<div class="p" style="left:431.04px;top:543.9px;width:36.13px">75</div>
<div class="p" style="left:470.42px;top:543.9px;width:36.13px">79</div>
<div class="p" style="left:509.8px;top:543.9px;width:36.13px">79</div>
<div class="p" style="left:549.18px;top:543.9px;width:36.13px">79</div>
<div class="p" style="left:588.56px;top:543.9px;width:36.13px">75</div>
<div class="p" style="left:627.94px;top:543.9px;width:36.13px">69</div>
<div class="p" style="left:667.32px;top:543.9px;width:36.13px">89</div>
<div class="p" style="left:706.7px;top:543.9px;width:36.13px">79</div>
<div class="p" style="left:746.08px;top:543.9px;width:36.13px">79</div>
<div class="p" style="left:785.46px;top:543.9px;width:36.13px">99</div>
<div class="p" style="left:824.84px;top:543.9px;width:36.13px">99</div>
<div class="p" style="left:864.22px;top:543.9px;width:36.13px"><u>1</u>09</div>
<div class="p" style="left:903.6px;top:543.9px;width:36.13px"><u>1</u>09</div>
<div class="p" style="left:942.98px;top:543.9px;width:36.13px"><u>1</u>09</div>
<div class="p" style="left:982.36px;top:543.9px;width:36.13px"><u>1</u>09</div>
<div class="p" style="left:1021.74px;top:543.9px;width:36.13px">69</div>
<div class="p" style="left:1061.12px;top:543.9px;width:36.13px">99</div>
<div class="p" style="left:1100.5px;top:543.9px;width:36.13px">99</div>
<div class="lab" style="top:567.6px;height:33.3px;padding-top:9.5px">#<u>1</u>2D Tiny Home</div>
<div class="c" style="left:117px;top:567.6px;width:992px;height:33.3px"></div>
<div class="we" style="left:234.14px;top:567.6px;width:39.38px;height:33.3px"></div>
<div class="we" style="left:273.52px;top:567.6px;width:39.38px;height:33.3px"></div>
<div class="we" style="left:509.8px;top:567.6px;width:39.38px;height:33.3px"></div>
<div class="we" style="left:549.18px;top:567.6px;width:39.38px;height:33.3px"></div>
<div class="we" style="left:785.46px;top:567.6px;width:39.38px;height:33.3px"></div>
<div class="we" style="left:824.84px;top:567.6px;width:39.38px;height:33.3px"></div>
<div class="we" style="left:1061.12px;top:567.6px;width:39.38px;height:33.3px"></div>
<div class="we" style="left:1100.5px;top:567.6px;width:39.38px;height:33.3px"></div>
<div class="p" style="left:117px;top:577.2px;width:35.21px">89</div>
<div class="p" style="left:155.38px;top:577.2px;width:36.13px">99</div>
<div class="p" style="left:194.76px;top:577.2px;width:36.13px">99</div>
<div class="p" style="left:234.14px;top:577.2px;width:36.13px"><u>1</u>69</div>
<div class="p" style="left:273.52px;top:577.2px;width:36.13px"><u>1</u><u>1</u>9</div>
<div class="p" style="left:312.9px;top:577.2px;width:36.13px">89</div>
<div class="p" style="left:352.28px;top:577.2px;width:36.13px">75</div>
<div class="p" style="left:391.66px;top:577.2px;width:36.13px">75</div>
<div class="p" style="left:431.04px;top:577.2px;width:36.13px">75</div>
<div class="p" style="left:470.42px;top:577.2px;width:36.13px">79</div>
<div class="p" style="left:509.8px;top:577.2px;width:36.13px">79</div>
<div class="p" style="left:549.18px;top:577.2px;width:36.13px">79</div>
<div class="p" style="left:588.56px;top:577.2px;width:36.13px">75</div>
<div class="p" style="left:627.94px;top:577.2px;width:36.13px">69</div>
<div class="p" style="left:667.32px;top:577.2px;width:36.13px">89</div>
<div class="p" style="left:706.7px;top:577.2px;width:36.13px">79</div>
<div class="p" style="left:746.08px;top:577.2px;width:36.13px">79</div>
<div class="p" style="left:785.46px;top:577.2px;width:36.13px">99</div>
<div class="p" style="left:824.84px;top:577.2px;width:36.13px">99</div>
<div class="p" style="left:864.22px;top:577.2px;width:36.13px"><u>1</u>09</div>
<div class="p" style="left:903.6px;top:577.2px;width:36.13px"><u>1</u>09</div>
<div class="p" style="left:942.98px;top:577.2px;width:36.13px"><u>1</u>09</div>
<div class="p" style="left:982.36px;top:577.2px;width:36.13px"><u>1</u>09</div>
<div class="p" style="left:1021.74px;top:577.2px;width:36.13px">69</div>
<div class="p" style="left:1061.12px;top:577.2px;width:36.13px">99</div>
<div class="p" style="left:1100.5px;top:577.2px;width:36.13px">99</div>
<div class="lab" style="top:600.9px;height:33.3px;padding-top:9.5px">#<u>1</u>2E Tiny Home</div>
<div class="c" style="left:117px;top:600.9px;width:992px;height:33.3px"></div>
<div class="we" style="left:234.14px;top:600.9px;width:39.38px;height:33.3px"></div>
<div class="we" style="left:273.52px;top:600.9px;width:39.38px;height:33.3px"></div>
<div class="we" style="left:509.8px;top:600.9px;width:39.38px;height:33.3px"></div>
<div class="we" style="left:549.18px;top:600.9px;width:39.38px;height:33.3px"></div>
<div class="we" style="left:785.46px;top:600.9px;width:39.38px;height:33.3px"></div>
<div class="we" style="left:824.84px;top:600.9px;width:39.38px;height:33.3px"></div>
<div class="we" style="left:1061.12px;top:600.9px;width:39.38px;height:33.3px"></div>
<div class="we" style="left:1100.5px;top:600.9px;width:39.38px;height:33.3px"></div>
<div class="p" style="left:117px;top:610.5px;width:35.21px">89</div>
<div class="p" style="left:155.38px;top:610.5px;width:36.13px">99</div>
<div class="p" style="left:194.76px;top:610.5px;width:36.13px">99</div>
<div class="p" style="left:234.14px;top:610.5px;width:36.13px"><u>1</u>69</div>
<div class="p" style="left:273.52px;top:610.5px;width:36.13px"><u>1</u><u>1</u>9</div>
<div class="p" style="left:312.9px;top:610.5px;width:36.13px">89</div>
<div class="p" style="left:352.28px;top:610.5px;width:36.13px">75</div>
<div class="p" style="left:391.66px;top:610.5px;width:36.13px">75</div>
<div class="p" style="left:431.04px;top:610.5px;width:36.13px">75</div>
<div class="p" style="left:470.42px;top:610.5px;width:36.13px">79</div>
<div class="p" style="left:509.8px;top:610.5px;width:36.13px">79</div>
<div class="p" style="left:549.18px;top:610.5px;width:36.13px">79</div>
<div class="p" style="left:588.56px;top:610.5px;width:36.13px">75</div>
<div class="p" style="left:627.94px;top:610.5px;width:36.13px">69</div>
<div class="p" style="left:667.32px;top:610.5px;width:36.13px">89</div>
<div class="p" style="left:706.7px;top:610.5px;width:36.13px">79</div>
<div class="p" style="left:746.08px;top:610.5px;width:36.13px">79</div>
<div class="p" style="left:785.46px;top:610.5px;width:36.13px">99</div>
<div class="p" style="left:824.84px;top:610.5px;width:36.13px">99</div>
<div class="p" style="left:864.22px;top:610.5px;width:36.13px"><u>1</u>09</div>
<div class="p" style="left:903.6px;top:610.5px;width:36.13px"><u>1</u>09</div>
<div class="p" style="left:942.98px;top:610.5px;width:36.13px"><u>1</u>09</div>
<div class="p" style="left:982.36px;top:610.5px;width:36.13px"><u>1</u>09</div>
<div class="p" style="left:1021.74px;top:610.5px;width:36.13px">69</div>
<div class="p" style="left:1061.12px;top:610.5px;width:36.13px">99</div>
<div class="p" style="left:1100.5px;top:610.5px;width:36.13px">99</div>
<div class="lab" style="top:634.2px;height:33.3px;padding-top:9.5px">#<u>1</u>2F Tiny Home</div>
<div class="c" style="left:117px;top:634.2px;width:992px;height:33.3px"></div>
<div class="we" style="left:234.14px;top:634.2px;width:39.38px;height:33.3px"></div>
<div class="we" style="left:273.52px;top:634.2px;width:39.38px;height:33.3px"></div>
<div class="we" style="left:509.8px;top:634.2px;width:39.38px;height:33.3px"></div>
<div class="we" style="left:549.18px;top:634.2px;width:39.38px;height:33.3px"></div>
<div class="we" style="left:785.46px;top:634.2px;width:39.38px;height:33.3px"></div>
<div class="we" style="left:824.84px;top:634.2px;width:39.38px;height:33.3px"></div>
<div class="we" style="left:1061.12px;top:634.2px;width:39.38px;height:33.3px"></div>
<div class="we" style="left:1100.5px;top:634.2px;width:39.38px;height:33.3px"></div>
<div class="p" style="left:117px;top:643.8px;width:35.21px">89</div>
<div class="p" style="left:155.38px;top:643.8px;width:36.13px">99</div>
<div class="p" style="left:194.76px;top:643.8px;width:36.13px">99</div>
<div class="p" style="left:234.14px;top:643.8px;width:36.13px"><u>1</u>69</div>
<div class="p" style="left:273.52px;top:643.8px;width:36.13px"><u>1</u><u>1</u>9</div>
<div class="p" style="left:312.9px;top:643.8px;width:36.13px">89</div>
<div class="p" style="left:352.28px;top:643.8px;width:36.13px">75</div>
<div class="p" style="left:391.66px;top:643.8px;width:36.13px">75</div>
<div class="p" style="left:431.04px;top:643.8px;width:36.13px">75</div>
<div class="p" style="left:470.42px;top:643.8px;width:36.13px">79</div>
<div class="p" style="left:509.8px;top:643.8px;width:36.13px">79</div>
<div class="p" style="left:549.18px;top:643.8px;width:36.13px">79</div>
<div class="p" style="left:588.56px;top:643.8px;width:36.13px">75</div>
<div class="p" style="left:627.94px;top:643.8px;width:36.13px">69</div>
<div class="p" style="left:667.32px;top:643.8px;width:36.13px">89</div>
<div class="p" style="left:706.7px;top:643.8px;width:36.13px">79</div>
<div class="p" style="left:746.08px;top:643.8px;width:36.13px">79</div>
<div class="p" style="left:785.46px;top:643.8px;width:36.13px">99</div>
<div class="p" style="left:824.84px;top:643.8px;width:36.13px">99</div>
<div class="p" style="left:864.22px;top:643.8px;width:36.13px"><u>1</u>09</div>
<div class="p" style="left:903.6px;top:643.8px;width:36.13px"><u>1</u>09</div>
<div class="p" style="left:942.98px;top:643.8px;width:36.13px"><u>1</u>09</div>
<div class="p" style="left:982.36px;top:643.8px;width:36.13px"><u>1</u>09</div>
<div class="p" style="left:1021.74px;top:643.8px;width:36.13px">69</div>
<div class="p" style="left:1061.12px;top:643.8px;width:36.13px">99</div>
<div class="p" style="left:1100.5px;top:643.8px;width:36.13px">99</div>
<div class="lab g" style="top:667.5px;height:33.3px;padding-top:8px">#<u>1</u>3A Tiny Home</div>
<div class="c" style="left:117px;top:667.5px;width:992px;height:33.3px"></div>
<div class="we" style="left:234.14px;top:667.5px;width:39.38px;height:33.3px"></div>
<div class="we" style="left:273.52px;top:667.5px;width:39.38px;height:33.3px"></div>
<div class="we" style="left:509.8px;top:667.5px;width:39.38px;height:33.3px"></div>
<div class="we" style="left:549.18px;top:667.5px;width:39.38px;height:33.3px"></div>
<div class="we" style="left:785.46px;top:667.5px;width:39.38px;height:33.3px"></div>
<div class="we" style="left:824.84px;top:667.5px;width:39.38px;height:33.3px"></div>
<div class="we" style="left:1061.12px;top:667.5px;width:39.38px;height:33.3px"></div>
<div class="we" style="left:1100.5px;top:667.5px;width:39.38px;height:33.3px"></div>
<div class="p" style="left:117px;top:677.1px;width:35.21px">89</div>
<div class="p" style="left:155.38px;top:677.1px;width:36.13px">99</div>
<div class="p" style="left:194.76px;top:677.1px;width:36.13px">99</div>
<div class="p" style="left:273.52px;top:677.1px;width:36.13px"><u>1</u><u>1</u>9</div>
<div class="p" style="left:312.9px;top:677.1px;width:36.13px">89</div>
<div class="p" style="left:352.28px;top:677.1px;width:36.13px">75</div>
<div class="p" style="left:391.66px;top:677.1px;width:36.13px">75</div>
<div class="p" style="left:431.04px;top:677.1px;width:36.13px">75</div>
<div class="p" style="left:706.7px;top:677.1px;width:36.13px">79</div>
<div class="p" style="left:785.46px;top:677.1px;width:36.13px;text-align:left;padding-left:2.8px"><b>+<u>1</u></b> 99</div>
<div class="p" style="left:824.84px;top:677.1px;width:36.13px">99</div>
<div class="p" style="left:864.22px;top:677.1px;width:36.13px;text-align:left;padding-left:2.8px"><b>+<u>1</u></b> <u>1</u>09</div>
<div class="p" style="left:903.6px;top:677.1px;width:36.13px;text-align:left;padding-left:2.8px"><b>+<u>1</u></b> <u>1</u>09</div>
<div class="p" style="left:942.98px;top:677.1px;width:36.13px"><u>1</u>09</div>
<div class="p" style="left:982.36px;top:677.1px;width:36.13px"><u>1</u>09</div>
<div class="p" style="left:1021.74px;top:677.1px;width:36.13px">69</div>
<div class="p" style="left:1061.12px;top:677.1px;width:36.13px">99</div>
<div class="p" style="left:1100.5px;top:677.1px;width:36.13px">99</div>
<div class="res b" style="left:234.14px;top:667.5px;width:36.13px;height:33.3px;padding-top:9.6px">DEJOY</div>
<div class="res b" style="left:470.42px;top:667.5px;width:72.26px;height:33.3px;padding-top:9.6px">Curlat , A</div>
<div class="res b" style="left:549.18px;top:667.5px;width:36.13px;height:33.3px;padding-top:9.6px">That</div>
<div class="res b" style="left:588.56px;top:667.5px;width:108.39px;height:33.3px;padding-top:9.6px">Harbuck, Scott</div>
<div class="res b" style="left:746.08px;top:667.5px;width:36.13px;height:33.3px;padding-top:9.6px">Gonzalez</div>
<div class="lab g" style="top:700.8px;height:33.3px;padding-top:8px">#<u>1</u>3B Tiny Home</div>
<div class="c" style="left:117px;top:700.8px;width:992px;height:33.3px"></div>
<div class="we" style="left:234.14px;top:700.8px;width:39.38px;height:33.3px"></div>
<div class="we" style="left:273.52px;top:700.8px;width:39.38px;height:33.3px"></div>
<div class="we" style="left:509.8px;top:700.8px;width:39.38px;height:33.3px"></div>
<div class="we" style="left:549.18px;top:700.8px;width:39.38px;height:33.3px"></div>
<div class="we" style="left:785.46px;top:700.8px;width:39.38px;height:33.3px"></div>
<div class="we" style="left:824.84px;top:700.8px;width:39.38px;height:33.3px"></div>
<div class="we" style="left:1061.12px;top:700.8px;width:39.38px;height:33.3px"></div>
<div class="we" style="left:1100.5px;top:700.8px;width:39.38px;height:33.3px"></div>
<div class="p" style="left:117px;top:710.4px;width:35.21px">89</div>
<div class="p" style="left:155.38px;top:710.4px;width:36.13px">99</div>
<div class="p" style="left:194.76px;top:710.4px;width:36.13px">99</div>
<div class="p" style="left:273.52px;top:710.4px;width:36.13px"><u>1</u><u>1</u>9</div>
<div class="p" style="left:312.9px;top:710.4px;width:36.13px">89</div>
<div class="p" style="left:352.28px;top:710.4px;width:36.13px">75</div>
<div class="p" style="left:431.04px;top:710.4px;width:36.13px">75</div>
<div class="p" style="left:470.42px;top:710.4px;width:36.13px">79</div>
<div class="p" style="left:509.8px;top:710.4px;width:36.13px">79</div>
<div class="p" style="left:549.18px;top:710.4px;width:36.13px">79</div>
<div class="p" style="left:588.56px;top:710.4px;width:36.13px">75</div>
<div class="p" style="left:627.94px;top:710.4px;width:36.13px">69</div>
<div class="p" style="left:667.32px;top:710.4px;width:36.13px">89</div>
<div class="p" style="left:706.7px;top:710.4px;width:36.13px">79</div>
<div class="p" style="left:746.08px;top:710.4px;width:36.13px">79</div>
<div class="p" style="left:864.22px;top:710.4px;width:36.13px"><u>1</u>09</div>
<div class="p" style="left:903.6px;top:710.4px;width:36.13px"><u>1</u>09</div>
<div class="p" style="left:942.98px;top:710.4px;width:36.13px"><u>1</u>09</div>
<div class="p" style="left:982.36px;top:710.4px;width:36.13px"><u>1</u>09</div>
<div class="p" style="left:1061.12px;top:710.4px;width:36.13px">99</div>
<div class="p" style="left:1100.5px;top:710.4px;width:36.13px">99</div>
<div class="res b" style="left:391.66px;top:700.8px;width:36.13px;height:33.3px;padding-top:9.6px">natalie</div>
<div class="res b" style="left:785.46px;top:700.8px;width:72.26px;height:33.3px;padding-top:9.6px">Bhupathi,</div>
<div class="lab g" style="top:734.1px;height:33.3px;padding-top:8px">#<u>1</u>3C Tiny Home</div>
<div class="c" style="left:117px;top:734.1px;width:992px;height:33.3px"></div>
<div class="we" style="left:234.14px;top:734.1px;width:39.38px;height:33.3px"></div>
<div class="we" style="left:273.52px;top:734.1px;width:39.38px;height:33.3px"></div>
<div class="we" style="left:509.8px;top:734.1px;width:39.38px;height:33.3px"></div>
<div class="we" style="left:549.18px;top:734.1px;width:39.38px;height:33.3px"></div>
<div class="we" style="left:785.46px;top:734.1px;width:39.38px;height:33.3px"></div>
<div class="we" style="left:824.84px;top:734.1px;width:39.38px;height:33.3px"></div>
<div class="we" style="left:1061.12px;top:734.1px;width:39.38px;height:33.3px"></div>
<div class="we" style="left:1100.5px;top:734.1px;width:39.38px;height:33.3px"></div>
<div class="p" style="left:117px;top:743.7px;width:35.21px">89</div>
<div class="p" style="left:155.38px;top:743.7px;width:36.13px">99</div>
<div class="p" style="left:312.9px;top:743.7px;width:36.13px">89</div>
<div class="p" style="left:352.28px;top:743.7px;width:36.13px">75</div>
<div class="p" style="left:391.66px;top:743.7px;width:36.13px">75</div>
<div class="p" style="left:431.04px;top:743.7px;width:36.13px">75</div>
<div class="p" style="left:470.42px;top:743.7px;width:36.13px">79</div>
<div class="p" style="left:509.8px;top:743.7px;width:36.13px">79</div>
<div class="p" style="left:549.18px;top:743.7px;width:36.13px">79</div>
<div class="p" style="left:588.56px;top:743.7px;width:36.13px">75</div>
<div class="p" style="left:706.7px;top:743.7px;width:36.13px">79</div>
<div class="p" style="left:746.08px;top:743.7px;width:36.13px">79</div>
<div class="p" style="left:903.6px;top:743.7px;width:36.13px"><u>1</u>09</div>
<div class="p" style="left:942.98px;top:743.7px;width:36.13px"><u>1</u>09</div>
<div class="p" style="left:982.36px;top:743.7px;width:36.13px"><u>1</u>09</div>
<div class="res b" style="left:627.94px;top:734.1px;width:72.26px;height:33.3px;padding-top:9.6px">Swift, Nadia</div>
<div class="res b ctr" style="left:785.46px;top:734.1px;width:108.39px;height:33.3px;padding-top:9.6px">Cabrera, Luis</div>
<div class="res b" style="left:1021.74px;top:734.1px;width:36.13px;height:33.3px;padding-top:9.6px">Doyle</div>
<div class="res b" style="left:1061.12px;top:734.1px;width:36.13px;height:33.3px;padding-top:9.6px">Bundy</div>
<div class="lab g" style="top:767.4px;height:33.3px;padding-top:8px">#<u>1</u>3D Tiny Home</div>
<div class="c" style="left:117px;top:767.4px;width:992px;height:33.3px"></div>
<div class="we" style="left:234.14px;top:767.4px;width:39.38px;height:33.3px"></div>
<div class="we" style="left:273.52px;top:767.4px;width:39.38px;height:33.3px"></div>
<div class="we" style="left:509.8px;top:767.4px;width:39.38px;height:33.3px"></div>
<div class="we" style="left:549.18px;top:767.4px;width:39.38px;height:33.3px"></div>
<div class="we" style="left:785.46px;top:767.4px;width:39.38px;height:33.3px"></div>
<div class="we" style="left:824.84px;top:767.4px;width:39.38px;height:33.3px"></div>
<div class="we" style="left:1061.12px;top:767.4px;width:39.38px;height:33.3px"></div>
<div class="we" style="left:1100.5px;top:767.4px;width:39.38px;height:33.3px"></div>
<div class="p" style="left:117px;top:777px;width:35.21px">89</div>
<div class="p" style="left:312.9px;top:777px;width:36.13px">89</div>
<div class="p" style="left:352.28px;top:777px;width:36.13px">75</div>
<div class="p" style="left:391.66px;top:777px;width:36.13px;text-align:left;padding-left:2.8px"><b>+<u>1</u></b> 75</div>
<div class="p" style="left:470.42px;top:777px;width:36.13px">79</div>
<div class="p" style="left:509.8px;top:777px;width:36.13px">79</div>
<div class="p" style="left:824.84px;top:777px;width:36.13px">99</div>
<div class="p" style="left:864.22px;top:777px;width:36.13px"><u>1</u>09</div>
<div class="p" style="left:903.6px;top:777px;width:36.13px"><u>1</u>09</div>
<div class="p" style="left:942.98px;top:777px;width:36.13px;text-align:left;padding-left:2.8px"><b>+<u>1</u></b> <u>1</u>09</div>
<div class="p" style="left:982.36px;top:777px;width:36.13px"><u>1</u>09</div>
<div class="p" style="left:1021.74px;top:777px;width:36.13px">69</div>
<div class="res b" style="left:155.38px;top:767.4px;width:108.39px;height:33.3px;padding-top:9.6px"><i>+<u>1</u></i> Casillas, David</div>
<div class="res b" style="left:273.52px;top:767.4px;width:36.13px;height:33.3px;padding-top:9.6px"><i>+<u>1</u></i> Vega</div>
<div class="res b" style="left:431.04px;top:767.4px;width:36.13px;height:33.3px;padding-top:9.6px">Ballou</div>
<div class="res b" style="left:549.18px;top:767.4px;width:72.26px;height:33.3px;padding-top:9.6px">Knutsen, Ingrid</div>
<div class="res b" style="left:627.94px;top:767.4px;width:36.13px;height:33.3px;padding-top:9.6px">Laura</div>
<div class="res b" style="left:667.32px;top:767.4px;width:36.13px;height:33.3px;padding-top:9.6px"><i>+<u>1</u></i> Hall</div>
<div class="res b" style="left:706.7px;top:767.4px;width:36.13px;height:33.3px;padding-top:9.6px"><i>+<u>1</u></i> Grant</div>
<div class="res b" style="left:746.08px;top:767.4px;width:36.13px;height:33.3px;padding-top:9.6px">Glenn</div>
<div class="res b" style="left:785.46px;top:767.4px;width:36.13px;height:33.3px;padding-top:9.6px">Turq</div>
<div class="res b" style="left:1061.12px;top:767.4px;width:36.13px;height:33.3px;padding-top:9.6px">Slob</div>
<div class="res b" style="left:1100.5px;top:767.4px;width:36.13px;height:33.3px;padding-top:9.6px">Ames</div>
<div class="vl" style="left:116.5px;top:122.3px;height:23.9px;background:#6f7074"></div>
<div class="vl" style="left:116.5px;top:151.6px;height:25.9px;background:#6f7074"></div>
<div class="vl" style="left:116.5px;top:508.6px;height:25.7px;background:#6f7074"></div>
<div class="vl" style="left:154.88px;top:122.3px;height:23.9px;background:#6f7074"></div>
<div class="vl" style="left:154.88px;top:151.6px;height:25.9px;background:#6f7074"></div>
<div class="vl" style="left:154.88px;top:508.6px;height:25.7px;background:#6f7074"></div>
<div class="vl" style="left:154.88px;top:177.5px;height:33.11px"></div>
<div class="vl" style="left:154.88px;top:210.61px;height:33.11px"></div>
<div class="vl" style="left:154.88px;top:243.72px;height:33.11px"></div>
<div class="vl" style="left:154.88px;top:276.83px;height:33.11px"></div>
<div class="vl" style="left:154.88px;top:309.94px;height:33.11px"></div>
<div class="vl" style="left:154.88px;top:376.16px;height:33.11px"></div>
<div class="vl" style="left:154.88px;top:409.27px;height:33.11px"></div>
<div class="vl" style="left:154.88px;top:442.38px;height:33.11px"></div>
<div class="vl" style="left:154.88px;top:475.49px;height:33.11px"></div>
<div class="vl" style="left:154.88px;top:534.3px;height:33.3px"></div>
<div class="vl" style="left:154.88px;top:567.6px;height:33.3px"></div>
<div class="vl" style="left:154.88px;top:600.9px;height:33.3px"></div>
<div class="vl" style="left:154.88px;top:634.2px;height:33.3px"></div>
<div class="vl" style="left:154.88px;top:667.5px;height:33.3px"></div>
<div class="vl" style="left:154.88px;top:700.8px;height:33.3px"></div>
<div class="vl" style="left:154.88px;top:734.1px;height:33.3px"></div>
<div class="vl" style="left:154.88px;top:767.4px;height:33.3px"></div>
<div class="vl" style="left:194.26px;top:122.3px;height:23.9px;background:#6f7074"></div>
<div class="vl" style="left:194.26px;top:151.6px;height:25.9px;background:#6f7074"></div>
<div class="vl" style="left:194.26px;top:508.6px;height:25.7px;background:#6f7074"></div>
<div class="vl" style="left:194.26px;top:177.5px;height:33.11px"></div>
<div class="vl" style="left:194.26px;top:243.72px;height:33.11px"></div>
<div class="vl" style="left:194.26px;top:276.83px;height:33.11px"></div>
<div class="vl" style="left:194.26px;top:309.94px;height:33.11px"></div>
<div class="vl" style="left:194.26px;top:376.16px;height:33.11px"></div>
<div class="vl" style="left:194.26px;top:409.27px;height:33.11px"></div>
<div class="vl" style="left:194.26px;top:442.38px;height:33.11px"></div>
<div class="vl" style="left:194.26px;top:475.49px;height:33.11px"></div>
<div class="vl" style="left:194.26px;top:534.3px;height:33.3px"></div>
<div class="vl" style="left:194.26px;top:567.6px;height:33.3px"></div>
<div class="vl" style="left:194.26px;top:600.9px;height:33.3px"></div>
<div class="vl" style="left:194.26px;top:634.2px;height:33.3px"></div>
<div class="vl" style="left:194.26px;top:667.5px;height:33.3px"></div>
<div class="vl" style="left:194.26px;top:700.8px;height:33.3px"></div>
<div class="vl" style="left:194.26px;top:734.1px;height:33.3px"></div>
<div class="vl" style="left:233.64px;top:122.3px;height:23.9px;background:#6f7074"></div>
<div class="vl" style="left:233.64px;top:151.6px;height:25.9px;background:#6f7074"></div>
<div class="vl" style="left:233.64px;top:508.6px;height:25.7px;background:#6f7074"></div>
<div class="vl" style="left:233.64px;top:177.5px;height:33.11px"></div>
<div class="vl" style="left:233.64px;top:243.72px;height:33.11px"></div>
<div class="vl" style="left:233.64px;top:276.83px;height:33.11px"></div>
<div class="vl" style="left:233.64px;top:309.94px;height:33.11px"></div>
<div class="vl" style="left:233.64px;top:376.16px;height:33.11px"></div>
<div class="vl" style="left:233.64px;top:409.27px;height:33.11px"></div>
<div class="vl" style="left:233.64px;top:442.38px;height:33.11px"></div>
<div class="vl" style="left:233.64px;top:475.49px;height:33.11px"></div>
<div class="vl" style="left:233.64px;top:534.3px;height:33.3px"></div>
<div class="vl" style="left:233.64px;top:567.6px;height:33.3px"></div>
<div class="vl" style="left:233.64px;top:600.9px;height:33.3px"></div>
<div class="vl" style="left:233.64px;top:634.2px;height:33.3px"></div>
<div class="vl" style="left:233.64px;top:667.5px;height:33.3px"></div>
<div class="vl" style="left:233.64px;top:700.8px;height:33.3px"></div>
<div class="vl" style="left:273.02px;top:122.3px;height:23.9px;background:#6f7074"></div>
<div class="vl" style="left:273.02px;top:151.6px;height:25.9px;background:#6f7074"></div>
<div class="vl" style="left:273.02px;top:508.6px;height:25.7px;background:#6f7074"></div>
<div class="vl" style="left:273.02px;top:177.5px;height:33.11px"></div>
<div class="vl" style="left:273.02px;top:210.61px;height:33.11px"></div>
<div class="vl" style="left:273.02px;top:243.72px;height:33.11px"></div>
<div class="vl" style="left:273.02px;top:309.94px;height:33.11px"></div>
<div class="vl" style="left:273.02px;top:343.05px;height:33.11px"></div>
<div class="vl" style="left:273.02px;top:376.16px;height:33.11px"></div>
<div class="vl" style="left:273.02px;top:409.27px;height:33.11px"></div>
<div class="vl" style="left:273.02px;top:442.38px;height:33.11px"></div>
<div class="vl" style="left:273.02px;top:475.49px;height:33.11px"></div>
<div class="vl" style="left:273.02px;top:534.3px;height:33.3px"></div>
<div class="vl" style="left:273.02px;top:567.6px;height:33.3px"></div>
<div class="vl" style="left:273.02px;top:600.9px;height:33.3px"></div>
<div class="vl" style="left:273.02px;top:634.2px;height:33.3px"></div>
<div class="vl" style="left:273.02px;top:667.5px;height:33.3px"></div>
<div class="vl" style="left:273.02px;top:700.8px;height:33.3px"></div>
<div class="vl" style="left:273.02px;top:767.4px;height:33.3px"></div>
<div class="vl" style="left:312.4px;top:122.3px;height:23.9px;background:#6f7074"></div>
<div class="vl" style="left:312.4px;top:151.6px;height:25.9px;background:#6f7074"></div>
<div class="vl" style="left:312.4px;top:508.6px;height:25.7px;background:#6f7074"></div>
<div class="vl" style="left:312.4px;top:177.5px;height:33.11px"></div>
<div class="vl" style="left:312.4px;top:210.61px;height:33.11px"></div>
<div class="vl" style="left:312.4px;top:243.72px;height:33.11px"></div>
<div class="vl" style="left:312.4px;top:276.83px;height:33.11px"></div>
<div class="vl" style="left:312.4px;top:309.94px;height:33.11px"></div>
<div class="vl" style="left:312.4px;top:343.05px;height:33.11px"></div>
<div class="vl" style="left:312.4px;top:376.16px;height:33.11px"></div>
<div class="vl" style="left:312.4px;top:409.27px;height:33.11px"></div>
<div class="vl" style="left:312.4px;top:442.38px;height:33.11px"></div>
<div class="vl" style="left:312.4px;top:475.49px;height:33.11px"></div>
<div class="vl" style="left:312.4px;top:534.3px;height:33.3px"></div>
<div class="vl" style="left:312.4px;top:567.6px;height:33.3px"></div>
<div class="vl" style="left:312.4px;top:600.9px;height:33.3px"></div>
<div class="vl" style="left:312.4px;top:634.2px;height:33.3px"></div>
<div class="vl" style="left:312.4px;top:667.5px;height:33.3px"></div>
<div class="vl" style="left:312.4px;top:700.8px;height:33.3px"></div>
<div class="vl" style="left:312.4px;top:734.1px;height:33.3px"></div>
<div class="vl" style="left:312.4px;top:767.4px;height:33.3px"></div>
<div class="vl" style="left:351.78px;top:122.3px;height:23.9px;background:#6f7074"></div>
<div class="vl" style="left:351.78px;top:151.6px;height:25.9px;background:#6f7074"></div>
<div class="vl" style="left:351.78px;top:508.6px;height:25.7px;background:#6f7074"></div>
<div class="vl" style="left:351.78px;top:177.5px;height:33.11px"></div>
<div class="vl" style="left:351.78px;top:210.61px;height:33.11px"></div>
<div class="vl" style="left:351.78px;top:243.72px;height:33.11px"></div>
<div class="vl" style="left:351.78px;top:276.83px;height:33.11px"></div>
<div class="vl" style="left:351.78px;top:309.94px;height:33.11px"></div>
<div class="vl" style="left:351.78px;top:343.05px;height:33.11px"></div>
<div class="vl" style="left:351.78px;top:376.16px;height:33.11px"></div>
<div class="vl" style="left:351.78px;top:409.27px;height:33.11px"></div>
<div class="vl" style="left:351.78px;top:442.38px;height:33.11px"></div>
<div class="vl" style="left:351.78px;top:475.49px;height:33.11px"></div>
<div class="vl" style="left:351.78px;top:534.3px;height:33.3px"></div>
<div class="vl" style="left:351.78px;top:567.6px;height:33.3px"></div>
<div class="vl" style="left:351.78px;top:600.9px;height:33.3px"></div>
<div class="vl" style="left:351.78px;top:634.2px;height:33.3px"></div>
<div class="vl" style="left:351.78px;top:667.5px;height:33.3px"></div>
<div class="vl" style="left:351.78px;top:700.8px;height:33.3px"></div>
<div class="vl" style="left:351.78px;top:734.1px;height:33.3px"></div>
<div class="vl" style="left:351.78px;top:767.4px;height:33.3px"></div>
<div class="vl" style="left:391.16px;top:122.3px;height:23.9px;background:#6f7074"></div>
<div class="vl" style="left:391.16px;top:151.6px;height:25.9px;background:#6f7074"></div>
<div class="vl" style="left:391.16px;top:508.6px;height:25.7px;background:#6f7074"></div>
<div class="vl" style="left:391.16px;top:177.5px;height:33.11px"></div>
<div class="vl" style="left:391.16px;top:210.61px;height:33.11px"></div>
<div class="vl" style="left:391.16px;top:243.72px;height:33.11px"></div>
<div class="vl" style="left:391.16px;top:276.83px;height:33.11px"></div>
<div class="vl" style="left:391.16px;top:309.94px;height:33.11px"></div>
<div class="vl" style="left:391.16px;top:343.05px;height:33.11px"></div>
<div class="vl" style="left:391.16px;top:376.16px;height:33.11px"></div>
<div class="vl" style="left:391.16px;top:409.27px;height:33.11px"></div>
<div class="vl" style="left:391.16px;top:442.38px;height:33.11px"></div>
<div class="vl" style="left:391.16px;top:475.49px;height:33.11px"></div>
<div class="vl" style="left:391.16px;top:534.3px;height:33.3px"></div>
<div class="vl" style="left:391.16px;top:567.6px;height:33.3px"></div>
<div class="vl" style="left:391.16px;top:600.9px;height:33.3px"></div>
<div class="vl" style="left:391.16px;top:634.2px;height:33.3px"></div>
<div class="vl" style="left:391.16px;top:667.5px;height:33.3px"></div>
<div class="vl" style="left:391.16px;top:700.8px;height:33.3px"></div>
<div class="vl" style="left:391.16px;top:734.1px;height:33.3px"></div>
<div class="vl" style="left:391.16px;top:767.4px;height:33.3px"></div>
<div class="vl" style="left:430.54px;top:122.3px;height:23.9px;background:#6f7074"></div>
<div class="vl" style="left:430.54px;top:151.6px;height:25.9px;background:#6f7074"></div>
<div class="vl" style="left:430.54px;top:508.6px;height:25.7px;background:#6f7074"></div>
<div class="vl" style="left:430.54px;top:177.5px;height:33.11px"></div>
<div class="vl" style="left:430.54px;top:210.61px;height:33.11px"></div>
<div class="vl" style="left:430.54px;top:243.72px;height:33.11px"></div>
<div class="vl" style="left:430.54px;top:276.83px;height:33.11px"></div>
<div class="vl" style="left:430.54px;top:309.94px;height:33.11px"></div>
<div class="vl" style="left:430.54px;top:343.05px;height:33.11px"></div>
<div class="vl" style="left:430.54px;top:376.16px;height:33.11px"></div>
<div class="vl" style="left:430.54px;top:409.27px;height:33.11px"></div>
<div class="vl" style="left:430.54px;top:442.38px;height:33.11px"></div>
<div class="vl" style="left:430.54px;top:475.49px;height:33.11px"></div>
<div class="vl" style="left:430.54px;top:534.3px;height:33.3px"></div>
<div class="vl" style="left:430.54px;top:567.6px;height:33.3px"></div>
<div class="vl" style="left:430.54px;top:600.9px;height:33.3px"></div>
<div class="vl" style="left:430.54px;top:634.2px;height:33.3px"></div>
<div class="vl" style="left:430.54px;top:667.5px;height:33.3px"></div>
<div class="vl" style="left:430.54px;top:700.8px;height:33.3px"></div>
<div class="vl" style="left:430.54px;top:734.1px;height:33.3px"></div>
<div class="vl" style="left:430.54px;top:767.4px;height:33.3px"></div>
<div class="vl" style="left:469.92px;top:122.3px;height:23.9px;background:#6f7074"></div>
<div class="vl" style="left:469.92px;top:151.6px;height:25.9px;background:#6f7074"></div>
<div class="vl" style="left:469.92px;top:508.6px;height:25.7px;background:#6f7074"></div>
<div class="vl" style="left:469.92px;top:177.5px;height:33.11px"></div>
<div class="vl" style="left:469.92px;top:210.61px;height:33.11px"></div>
<div class="vl" style="left:469.92px;top:243.72px;height:33.11px"></div>
<div class="vl" style="left:469.92px;top:309.94px;height:33.11px"></div>
<div class="vl" style="left:469.92px;top:343.05px;height:33.11px"></div>
<div class="vl" style="left:469.92px;top:376.16px;height:33.11px"></div>
<div class="vl" style="left:469.92px;top:409.27px;height:33.11px"></div>
<div class="vl" style="left:469.92px;top:442.38px;height:33.11px"></div>
<div class="vl" style="left:469.92px;top:475.49px;height:33.11px"></div>
<div class="vl" style="left:469.92px;top:534.3px;height:33.3px"></div>
<div class="vl" style="left:469.92px;top:567.6px;height:33.3px"></div>
<div class="vl" style="left:469.92px;top:600.9px;height:33.3px"></div>
<div class="vl" style="left:469.92px;top:634.2px;height:33.3px"></div>
<div class="vl" style="left:469.92px;top:667.5px;height:33.3px"></div>
<div class="vl" style="left:469.92px;top:700.8px;height:33.3px"></div>
<div class="vl" style="left:469.92px;top:734.1px;height:33.3px"></div>
<div class="vl" style="left:469.92px;top:767.4px;height:33.3px"></div>
<div class="vl" style="left:509.3px;top:122.3px;height:23.9px;background:#6f7074"></div>
<div class="vl" style="left:509.3px;top:151.6px;height:25.9px;background:#6f7074"></div>
<div class="vl" style="left:509.3px;top:508.6px;height:25.7px;background:#6f7074"></div>
<div class="vl" style="left:509.3px;top:177.5px;height:33.11px"></div>
<div class="vl" style="left:509.3px;top:210.61px;height:33.11px"></div>
<div class="vl" style="left:509.3px;top:243.72px;height:33.11px"></div>
<div class="vl" style="left:509.3px;top:309.94px;height:33.11px"></div>
<div class="vl" style="left:509.3px;top:343.05px;height:33.11px"></div>
<div class="vl" style="left:509.3px;top:376.16px;height:33.11px"></div>
<div class="vl" style="left:509.3px;top:409.27px;height:33.11px"></div>
<div class="vl" style="left:509.3px;top:442.38px;height:33.11px"></div>
<div class="vl" style="left:509.3px;top:475.49px;height:33.11px"></div>
<div class="vl" style="left:509.3px;top:534.3px;height:33.3px"></div>
<div class="vl" style="left:509.3px;top:567.6px;height:33.3px"></div>
<div class="vl" style="left:509.3px;top:600.9px;height:33.3px"></div>
<div class="vl" style="left:509.3px;top:634.2px;height:33.3px"></div>
<div class="vl" style="left:509.3px;top:700.8px;height:33.3px"></div>
<div class="vl" style="left:509.3px;top:734.1px;height:33.3px"></div>
<div class="vl" style="left:509.3px;top:767.4px;height:33.3px"></div>
<div class="vl" style="left:548.68px;top:122.3px;height:23.9px;background:#6f7074"></div>
<div class="vl" style="left:548.68px;top:151.6px;height:25.9px;background:#6f7074"></div>
<div class="vl" style="left:548.68px;top:508.6px;height:25.7px;background:#6f7074"></div>
<div class="vl" style="left:548.68px;top:177.5px;height:33.11px"></div>
<div class="vl" style="left:548.68px;top:243.72px;height:33.11px"></div>
<div class="vl" style="left:548.68px;top:276.83px;height:33.11px"></div>
<div class="vl" style="left:548.68px;top:309.94px;height:33.11px"></div>
<div class="vl" style="left:548.68px;top:343.05px;height:33.11px"></div>
<div class="vl" style="left:548.68px;top:376.16px;height:33.11px"></div>
<div class="vl" style="left:548.68px;top:409.27px;height:33.11px"></div>
<div class="vl" style="left:548.68px;top:442.38px;height:33.11px"></div>
<div class="vl" style="left:548.68px;top:475.49px;height:33.11px"></div>
<div class="vl" style="left:548.68px;top:534.3px;height:33.3px"></div>
<div class="vl" style="left:548.68px;top:567.6px;height:33.3px"></div>
<div class="vl" style="left:548.68px;top:600.9px;height:33.3px"></div>
<div class="vl" style="left:548.68px;top:634.2px;height:33.3px"></div>
<div class="vl" style="left:548.68px;top:667.5px;height:33.3px"></div>
<div class="vl" style="left:548.68px;top:700.8px;height:33.3px"></div>
<div class="vl" style="left:548.68px;top:734.1px;height:33.3px"></div>
<div class="vl" style="left:548.68px;top:767.4px;height:33.3px"></div>
<div class="vl" style="left:588.06px;top:122.3px;height:23.9px;background:#6f7074"></div>
<div class="vl" style="left:588.06px;top:151.6px;height:25.9px;background:#6f7074"></div>
<div class="vl" style="left:588.06px;top:508.6px;height:25.7px;background:#6f7074"></div>
<div class="vl" style="left:588.06px;top:177.5px;height:33.11px"></div>
<div class="vl" style="left:588.06px;top:210.61px;height:33.11px"></div>
<div class="vl" style="left:588.06px;top:243.72px;height:33.11px"></div>
<div class="vl" style="left:588.06px;top:309.94px;height:33.11px"></div>
<div class="vl" style="left:588.06px;top:343.05px;height:33.11px"></div>
<div class="vl" style="left:588.06px;top:376.16px;height:33.11px"></div>
<div class="vl" style="left:588.06px;top:409.27px;height:33.11px"></div>
<div class="vl" style="left:588.06px;top:442.38px;height:33.11px"></div>
<div class="vl" style="left:588.06px;top:534.3px;height:33.3px"></div>
<div class="vl" style="left:588.06px;top:567.6px;height:33.3px"></div>
<div class="vl" style="left:588.06px;top:600.9px;height:33.3px"></div>
<div class="vl" style="left:588.06px;top:634.2px;height:33.3px"></div>
<div class="vl" style="left:588.06px;top:667.5px;height:33.3px"></div>
<div class="vl" style="left:588.06px;top:700.8px;height:33.3px"></div>
<div class="vl" style="left:588.06px;top:734.1px;height:33.3px"></div>
<div class="vl" style="left:627.44px;top:122.3px;height:23.9px;background:#6f7074"></div>
<div class="vl" style="left:627.44px;top:151.6px;height:25.9px;background:#6f7074"></div>
<div class="vl" style="left:627.44px;top:508.6px;height:25.7px;background:#6f7074"></div>
<div class="vl" style="left:627.44px;top:177.5px;height:33.11px"></div>
<div class="vl" style="left:627.44px;top:210.61px;height:33.11px"></div>
<div class="vl" style="left:627.44px;top:243.72px;height:33.11px"></div>
<div class="vl" style="left:627.44px;top:276.83px;height:33.11px"></div>
<div class="vl" style="left:627.44px;top:309.94px;height:33.11px"></div>
<div class="vl" style="left:627.44px;top:343.05px;height:33.11px"></div>
<div class="vl" style="left:627.44px;top:376.16px;height:33.11px"></div>
<div class="vl" style="left:627.44px;top:409.27px;height:33.11px"></div>
<div class="vl" style="left:627.44px;top:442.38px;height:33.11px"></div>
<div class="vl" style="left:627.44px;top:475.49px;height:33.11px"></div>
<div class="vl" style="left:627.44px;top:534.3px;height:33.3px"></div>
<div class="vl" style="left:627.44px;top:567.6px;height:33.3px"></div>
<div class="vl" style="left:627.44px;top:600.9px;height:33.3px"></div>
<div class="vl" style="left:627.44px;top:634.2px;height:33.3px"></div>
<div class="vl" style="left:627.44px;top:700.8px;height:33.3px"></div>
<div class="vl" style="left:627.44px;top:734.1px;height:33.3px"></div>
<div class="vl" style="left:627.44px;top:767.4px;height:33.3px"></div>
<div class="vl" style="left:666.82px;top:122.3px;height:23.9px;background:#6f7074"></div>
<div class="vl" style="left:666.82px;top:151.6px;height:25.9px;background:#6f7074"></div>
<div class="vl" style="left:666.82px;top:508.6px;height:25.7px;background:#6f7074"></div>
<div class="vl" style="left:666.82px;top:177.5px;height:33.11px"></div>
<div class="vl" style="left:666.82px;top:210.61px;height:33.11px"></div>
<div class="vl" style="left:666.82px;top:243.72px;height:33.11px"></div>
<div class="vl" style="left:666.82px;top:276.83px;height:33.11px"></div>
<div class="vl" style="left:666.82px;top:309.94px;height:33.11px"></div>
<div class="vl" style="left:666.82px;top:343.05px;height:33.11px"></div>
<div class="vl" style="left:666.82px;top:376.16px;height:33.11px"></div>
<div class="vl" style="left:666.82px;top:409.27px;height:33.11px"></div>
<div class="vl" style="left:666.82px;top:442.38px;height:33.11px"></div>
<div class="vl" style="left:666.82px;top:475.49px;height:33.11px"></div>
<div class="vl" style="left:666.82px;top:534.3px;height:33.3px"></div>
<div class="vl" style="left:666.82px;top:567.6px;height:33.3px"></div>
<div class="vl" style="left:666.82px;top:600.9px;height:33.3px"></div>
<div class="vl" style="left:666.82px;top:634.2px;height:33.3px"></div>
<div class="vl" style="left:666.82px;top:700.8px;height:33.3px"></div>
<div class="vl" style="left:666.82px;top:767.4px;height:33.3px"></div>
<div class="vl" style="left:706.2px;top:122.3px;height:23.9px;background:#6f7074"></div>
<div class="vl" style="left:706.2px;top:151.6px;height:25.9px;background:#6f7074"></div>
<div class="vl" style="left:706.2px;top:508.6px;height:25.7px;background:#6f7074"></div>
<div class="vl" style="left:706.2px;top:177.5px;height:33.11px"></div>
<div class="vl" style="left:706.2px;top:210.61px;height:33.11px"></div>
<div class="vl" style="left:706.2px;top:243.72px;height:33.11px"></div>
<div class="vl" style="left:706.2px;top:276.83px;height:33.11px"></div>
<div class="vl" style="left:706.2px;top:309.94px;height:33.11px"></div>
<div class="vl" style="left:706.2px;top:343.05px;height:33.11px"></div>
<div class="vl" style="left:706.2px;top:376.16px;height:33.11px"></div>
<div class="vl" style="left:706.2px;top:409.27px;height:33.11px"></div>
<div class="vl" style="left:706.2px;top:442.38px;height:33.11px"></div>
<div class="vl" style="left:706.2px;top:475.49px;height:33.11px"></div>
<div class="vl" style="left:706.2px;top:534.3px;height:33.3px"></div>
<div class="vl" style="left:706.2px;top:567.6px;height:33.3px"></div>
<div class="vl" style="left:706.2px;top:600.9px;height:33.3px"></div>
<div class="vl" style="left:706.2px;top:634.2px;height:33.3px"></div>
<div class="vl" style="left:706.2px;top:667.5px;height:33.3px"></div>
<div class="vl" style="left:706.2px;top:700.8px;height:33.3px"></div>
<div class="vl" style="left:706.2px;top:734.1px;height:33.3px"></div>
<div class="vl" style="left:706.2px;top:767.4px;height:33.3px"></div>
<div class="vl" style="left:745.58px;top:122.3px;height:23.9px;background:#6f7074"></div>
<div class="vl" style="left:745.58px;top:151.6px;height:25.9px;background:#6f7074"></div>
<div class="vl" style="left:745.58px;top:508.6px;height:25.7px;background:#6f7074"></div>
<div class="vl" style="left:745.58px;top:243.72px;height:33.11px"></div>
<div class="vl" style="left:745.58px;top:276.83px;height:33.11px"></div>
<div class="vl" style="left:745.58px;top:309.94px;height:33.11px"></div>
<div class="vl" style="left:745.58px;top:343.05px;height:33.11px"></div>
<div class="vl" style="left:745.58px;top:376.16px;height:33.11px"></div>
<div class="vl" style="left:745.58px;top:409.27px;height:33.11px"></div>
<div class="vl" style="left:745.58px;top:442.38px;height:33.11px"></div>
<div class="vl" style="left:745.58px;top:475.49px;height:33.11px"></div>
<div class="vl" style="left:745.58px;top:534.3px;height:33.3px"></div>
<div class="vl" style="left:745.58px;top:567.6px;height:33.3px"></div>
<div class="vl" style="left:745.58px;top:600.9px;height:33.3px"></div>
<div class="vl" style="left:745.58px;top:634.2px;height:33.3px"></div>
<div class="vl" style="left:745.58px;top:667.5px;height:33.3px"></div>
<div class="vl" style="left:745.58px;top:700.8px;height:33.3px"></div>
<div class="vl" style="left:745.58px;top:734.1px;height:33.3px"></div>
<div class="vl" style="left:745.58px;top:767.4px;height:33.3px"></div>
<div class="vl" style="left:784.96px;top:122.3px;height:23.9px;background:#6f7074"></div>
<div class="vl" style="left:784.96px;top:151.6px;height:25.9px;background:#6f7074"></div>
<div class="vl" style="left:784.96px;top:508.6px;height:25.7px;background:#6f7074"></div>
<div class="vl" style="left:784.96px;top:243.72px;height:33.11px"></div>
<div class="vl" style="left:784.96px;top:276.83px;height:33.11px"></div>
<div class="vl" style="left:784.96px;top:309.94px;height:33.11px"></div>
<div class="vl" style="left:784.96px;top:343.05px;height:33.11px"></div>
<div class="vl" style="left:784.96px;top:376.16px;height:33.11px"></div>
<div class="vl" style="left:784.96px;top:409.27px;height:33.11px"></div>
<div class="vl" style="left:784.96px;top:442.38px;height:33.11px"></div>
<div class="vl" style="left:784.96px;top:475.49px;height:33.11px"></div>
<div class="vl" style="left:784.96px;top:534.3px;height:33.3px"></div>
<div class="vl" style="left:784.96px;top:567.6px;height:33.3px"></div>
<div class="vl" style="left:784.96px;top:600.9px;height:33.3px"></div>
<div class="vl" style="left:784.96px;top:634.2px;height:33.3px"></div>
<div class="vl" style="left:784.96px;top:667.5px;height:33.3px"></div>
<div class="vl" style="left:784.96px;top:700.8px;height:33.3px"></div>
<div class="vl" style="left:784.96px;top:734.1px;height:33.3px"></div>
<div class="vl" style="left:784.96px;top:767.4px;height:33.3px"></div>
<div class="vl" style="left:824.34px;top:122.3px;height:23.9px;background:#6f7074"></div>
<div class="vl" style="left:824.34px;top:151.6px;height:25.9px;background:#6f7074"></div>
<div class="vl" style="left:824.34px;top:508.6px;height:25.7px;background:#6f7074"></div>
<div class="vl" style="left:824.34px;top:177.5px;height:33.11px"></div>
<div class="vl" style="left:824.34px;top:210.61px;height:33.11px"></div>
<div class="vl" style="left:824.34px;top:243.72px;height:33.11px"></div>
<div class="vl" style="left:824.34px;top:276.83px;height:33.11px"></div>
<div class="vl" style="left:824.34px;top:309.94px;height:33.11px"></div>
<div class="vl" style="left:824.34px;top:343.05px;height:33.11px"></div>
<div class="vl" style="left:824.34px;top:376.16px;height:33.11px"></div>
<div class="vl" style="left:824.34px;top:409.27px;height:33.11px"></div>
<div class="vl" style="left:824.34px;top:442.38px;height:33.11px"></div>
<div class="vl" style="left:824.34px;top:475.49px;height:33.11px"></div>
<div class="vl" style="left:824.34px;top:534.3px;height:33.3px"></div>
<div class="vl" style="left:824.34px;top:567.6px;height:33.3px"></div>
<div class="vl" style="left:824.34px;top:600.9px;height:33.3px"></div>
<div class="vl" style="left:824.34px;top:634.2px;height:33.3px"></div>
<div class="vl" style="left:824.34px;top:667.5px;height:33.3px"></div>
<div class="vl" style="left:824.34px;top:767.4px;height:33.3px"></div>
<div class="vl" style="left:863.72px;top:122.3px;height:23.9px;background:#6f7074"></div>
<div class="vl" style="left:863.72px;top:151.6px;height:25.9px;background:#6f7074"></div>
<div class="vl" style="left:863.72px;top:508.6px;height:25.7px;background:#6f7074"></div>
<div class="vl" style="left:863.72px;top:177.5px;height:33.11px"></div>
<div class="vl" style="left:863.72px;top:210.61px;height:33.11px"></div>
<div class="vl" style="left:863.72px;top:243.72px;height:33.11px"></div>
<div class="vl" style="left:863.72px;top:276.83px;height:33.11px"></div>
<div class="vl" style="left:863.72px;top:309.94px;height:33.11px"></div>
<div class="vl" style="left:863.72px;top:343.05px;height:33.11px"></div>
<div class="vl" style="left:863.72px;top:376.16px;height:33.11px"></div>
<div class="vl" style="left:863.72px;top:409.27px;height:33.11px"></div>
<div class="vl" style="left:863.72px;top:442.38px;height:33.11px"></div>
<div class="vl" style="left:863.72px;top:475.49px;height:33.11px"></div>
<div class="vl" style="left:863.72px;top:534.3px;height:33.3px"></div>
<div class="vl" style="left:863.72px;top:567.6px;height:33.3px"></div>
<div class="vl" style="left:863.72px;top:600.9px;height:33.3px"></div>
<div class="vl" style="left:863.72px;top:634.2px;height:33.3px"></div>
<div class="vl" style="left:863.72px;top:667.5px;height:33.3px"></div>
<div class="vl" style="left:863.72px;top:700.8px;height:33.3px"></div>
<div class="vl" style="left:863.72px;top:767.4px;height:33.3px"></div>
<div class="vl" style="left:903.1px;top:122.3px;height:23.9px;background:#6f7074"></div>
<div class="vl" style="left:903.1px;top:151.6px;height:25.9px;background:#6f7074"></div>
<div class="vl" style="left:903.1px;top:508.6px;height:25.7px;background:#6f7074"></div>
<div class="vl" style="left:903.1px;top:177.5px;height:33.11px"></div>
<div class="vl" style="left:903.1px;top:210.61px;height:33.11px"></div>
<div class="vl" style="left:903.1px;top:276.83px;height:33.11px"></div>
<div class="vl" style="left:903.1px;top:309.94px;height:33.11px"></div>
<div class="vl" style="left:903.1px;top:343.05px;height:33.11px"></div>
<div class="vl" style="left:903.1px;top:376.16px;height:33.11px"></div>
<div class="vl" style="left:903.1px;top:409.27px;height:33.11px"></div>
<div class="vl" style="left:903.1px;top:442.38px;height:33.11px"></div>
<div class="vl" style="left:903.1px;top:475.49px;height:33.11px"></div>
<div class="vl" style="left:903.1px;top:534.3px;height:33.3px"></div>
<div class="vl" style="left:903.1px;top:567.6px;height:33.3px"></div>
<div class="vl" style="left:903.1px;top:600.9px;height:33.3px"></div>
<div class="vl" style="left:903.1px;top:634.2px;height:33.3px"></div>
<div class="vl" style="left:903.1px;top:667.5px;height:33.3px"></div>
<div class="vl" style="left:903.1px;top:700.8px;height:33.3px"></div>
<div class="vl" style="left:903.1px;top:734.1px;height:33.3px"></div>
<div class="vl" style="left:903.1px;top:767.4px;height:33.3px"></div>
<div class="vl" style="left:942.48px;top:122.3px;height:23.9px;background:#6f7074"></div>
<div class="vl" style="left:942.48px;top:151.6px;height:25.9px;background:#6f7074"></div>
<div class="vl" style="left:942.48px;top:508.6px;height:25.7px;background:#6f7074"></div>
<div class="vl" style="left:942.48px;top:177.5px;height:33.11px"></div>
<div class="vl" style="left:942.48px;top:210.61px;height:33.11px"></div>
<div class="vl" style="left:942.48px;top:276.83px;height:33.11px"></div>
<div class="vl" style="left:942.48px;top:309.94px;height:33.11px"></div>
<div class="vl" style="left:942.48px;top:343.05px;height:33.11px"></div>
<div class="vl" style="left:942.48px;top:376.16px;height:33.11px"></div>
<div class="vl" style="left:942.48px;top:409.27px;height:33.11px"></div>
<div class="vl" style="left:942.48px;top:442.38px;height:33.11px"></div>
<div class="vl" style="left:942.48px;top:475.49px;height:33.11px"></div>
<div class="vl" style="left:942.48px;top:534.3px;height:33.3px"></div>
<div class="vl" style="left:942.48px;top:567.6px;height:33.3px"></div>
<div class="vl" style="left:942.48px;top:600.9px;height:33.3px"></div>
<div class="vl" style="left:942.48px;top:634.2px;height:33.3px"></div>
<div class="vl" style="left:942.48px;top:667.5px;height:33.3px"></div>
<div class="vl" style="left:942.48px;top:700.8px;height:33.3px"></div>
<div class="vl" style="left:942.48px;top:734.1px;height:33.3px"></div>
<div class="vl" style="left:942.48px;top:767.4px;height:33.3px"></div>
<div class="vl" style="left:981.86px;top:122.3px;height:23.9px;background:#6f7074"></div>
<div class="vl" style="left:981.86px;top:151.6px;height:25.9px;background:#6f7074"></div>
<div class="vl" style="left:981.86px;top:508.6px;height:25.7px;background:#6f7074"></div>
<div class="vl" style="left:981.86px;top:177.5px;height:33.11px"></div>
<div class="vl" style="left:981.86px;top:210.61px;height:33.11px"></div>
<div class="vl" style="left:981.86px;top:243.72px;height:33.11px"></div>
<div class="vl" style="left:981.86px;top:276.83px;height:33.11px"></div>
<div class="vl" style="left:981.86px;top:309.94px;height:33.11px"></div>
<div class="vl" style="left:981.86px;top:343.05px;height:33.11px"></div>
<div class="vl" style="left:981.86px;top:376.16px;height:33.11px"></div>
<div class="vl" style="left:981.86px;top:409.27px;height:33.11px"></div>
<div class="vl" style="left:981.86px;top:442.38px;height:33.11px"></div>
<div class="vl" style="left:981.86px;top:475.49px;height:33.11px"></div>
<div class="vl" style="left:981.86px;top:534.3px;height:33.3px"></div>
<div class="vl" style="left:981.86px;top:567.6px;height:33.3px"></div>
<div class="vl" style="left:981.86px;top:600.9px;height:33.3px"></div>
<div class="vl" style="left:981.86px;top:634.2px;height:33.3px"></div>
<div class="vl" style="left:981.86px;top:667.5px;height:33.3px"></div>
<div class="vl" style="left:981.86px;top:700.8px;height:33.3px"></div>
<div class="vl" style="left:981.86px;top:734.1px;height:33.3px"></div>
<div class="vl" style="left:981.86px;top:767.4px;height:33.3px"></div>
<div class="vl" style="left:1021.24px;top:122.3px;height:23.9px;background:#6f7074"></div>
<div class="vl" style="left:1021.24px;top:151.6px;height:25.9px;background:#6f7074"></div>
<div class="vl" style="left:1021.24px;top:508.6px;height:25.7px;background:#6f7074"></div>
<div class="vl" style="left:1021.24px;top:177.5px;height:33.11px"></div>
<div class="vl" style="left:1021.24px;top:210.61px;height:33.11px"></div>
<div class="vl" style="left:1021.24px;top:243.72px;height:33.11px"></div>
<div class="vl" style="left:1021.24px;top:276.83px;height:33.11px"></div>
<div class="vl" style="left:1021.24px;top:309.94px;height:33.11px"></div>
<div class="vl" style="left:1021.24px;top:343.05px;height:33.11px"></div>
<div class="vl" style="left:1021.24px;top:376.16px;height:33.11px"></div>
<div class="vl" style="left:1021.24px;top:409.27px;height:33.11px"></div>
<div class="vl" style="left:1021.24px;top:442.38px;height:33.11px"></div>
<div class="vl" style="left:1021.24px;top:534.3px;height:33.3px"></div>
<div class="vl" style="left:1021.24px;top:567.6px;height:33.3px"></div>
<div class="vl" style="left:1021.24px;top:600.9px;height:33.3px"></div>
<div class="vl" style="left:1021.24px;top:634.2px;height:33.3px"></div>
<div class="vl" style="left:1021.24px;top:667.5px;height:33.3px"></div>
<div class="vl" style="left:1021.24px;top:700.8px;height:33.3px"></div>
<div class="vl" style="left:1021.24px;top:734.1px;height:33.3px"></div>
<div class="vl" style="left:1021.24px;top:767.4px;height:33.3px"></div>
<div class="vl" style="left:1060.62px;top:122.3px;height:23.9px;background:#6f7074"></div>
<div class="vl" style="left:1060.62px;top:151.6px;height:25.9px;background:#6f7074"></div>
<div class="vl" style="left:1060.62px;top:508.6px;height:25.7px;background:#6f7074"></div>
<div class="vl" style="left:1060.62px;top:177.5px;height:33.11px"></div>
<div class="vl" style="left:1060.62px;top:210.61px;height:33.11px"></div>
<div class="vl" style="left:1060.62px;top:243.72px;height:33.11px"></div>
<div class="vl" style="left:1060.62px;top:276.83px;height:33.11px"></div>
<div class="vl" style="left:1060.62px;top:309.94px;height:33.11px"></div>
<div class="vl" style="left:1060.62px;top:343.05px;height:33.11px"></div>
<div class="vl" style="left:1060.62px;top:376.16px;height:33.11px"></div>
<div class="vl" style="left:1060.62px;top:409.27px;height:33.11px"></div>
<div class="vl" style="left:1060.62px;top:442.38px;height:33.11px"></div>
<div class="vl" style="left:1060.62px;top:475.49px;height:33.11px"></div>
<div class="vl" style="left:1060.62px;top:534.3px;height:33.3px"></div>
<div class="vl" style="left:1060.62px;top:567.6px;height:33.3px"></div>
<div class="vl" style="left:1060.62px;top:600.9px;height:33.3px"></div>
<div class="vl" style="left:1060.62px;top:634.2px;height:33.3px"></div>
<div class="vl" style="left:1060.62px;top:667.5px;height:33.3px"></div>
<div class="vl" style="left:1060.62px;top:700.8px;height:33.3px"></div>
<div class="vl" style="left:1060.62px;top:734.1px;height:33.3px"></div>
<div class="vl" style="left:1060.62px;top:767.4px;height:33.3px"></div>
<div class="vl" style="left:1100px;top:122.3px;height:23.9px;background:#6f7074"></div>
<div class="vl" style="left:1100px;top:151.6px;height:25.9px;background:#6f7074"></div>
<div class="vl" style="left:1100px;top:508.6px;height:25.7px;background:#6f7074"></div>
<div class="vl" style="left:1100px;top:177.5px;height:33.11px"></div>
<div class="vl" style="left:1100px;top:210.61px;height:33.11px"></div>
<div class="vl" style="left:1100px;top:243.72px;height:33.11px"></div>
<div class="vl" style="left:1100px;top:276.83px;height:33.11px"></div>
<div class="vl" style="left:1100px;top:309.94px;height:33.11px"></div>
<div class="vl" style="left:1100px;top:343.05px;height:33.11px"></div>
<div class="vl" style="left:1100px;top:376.16px;height:33.11px"></div>
<div class="vl" style="left:1100px;top:409.27px;height:33.11px"></div>
<div class="vl" style="left:1100px;top:442.38px;height:33.11px"></div>
<div class="vl" style="left:1100px;top:534.3px;height:33.3px"></div>
<div class="vl" style="left:1100px;top:567.6px;height:33.3px"></div>
<div class="vl" style="left:1100px;top:600.9px;height:33.3px"></div>
<div class="vl" style="left:1100px;top:634.2px;height:33.3px"></div>
<div class="vl" style="left:1100px;top:667.5px;height:33.3px"></div>
<div class="vl" style="left:1100px;top:700.8px;height:33.3px"></div>
<div class="vl" style="left:1100px;top:734.1px;height:33.3px"></div>
<div class="vl" style="left:1100px;top:767.4px;height:33.3px"></div>
<div class="vl" style="left:1139.38px;top:122.3px;height:23.9px;background:#6f7074"></div>
<div class="vl" style="left:1139.38px;top:151.6px;height:25.9px;background:#6f7074"></div>
<div class="vl" style="left:1139.38px;top:508.6px;height:25.7px;background:#6f7074"></div>
<div class="vl" style="left:1139.38px;top:177.5px;height:33.11px"></div>
<div class="vl" style="left:1139.38px;top:210.61px;height:33.11px"></div>
<div class="vl" style="left:1139.38px;top:243.72px;height:33.11px"></div>
<div class="vl" style="left:1139.38px;top:276.83px;height:33.11px"></div>
<div class="vl" style="left:1139.38px;top:309.94px;height:33.11px"></div>
<div class="vl" style="left:1139.38px;top:343.05px;height:33.11px"></div>
<div class="vl" style="left:1139.38px;top:376.16px;height:33.11px"></div>
<div class="vl" style="left:1139.38px;top:409.27px;height:33.11px"></div>
<div class="vl" style="left:1139.38px;top:442.38px;height:33.11px"></div>
<div class="vl" style="left:1139.38px;top:475.49px;height:33.11px"></div>
<div class="vl" style="left:1139.38px;top:534.3px;height:33.3px"></div>
<div class="vl" style="left:1139.38px;top:567.6px;height:33.3px"></div>
<div class="vl" style="left:1139.38px;top:600.9px;height:33.3px"></div>
<div class="vl" style="left:1139.38px;top:634.2px;height:33.3px"></div>
<div class="vl" style="left:1139.38px;top:667.5px;height:33.3px"></div>
<div class="vl" style="left:1139.38px;top:700.8px;height:33.3px"></div>
<div class="vl" style="left:1139.38px;top:734.1px;height:33.3px"></div>
<div class="vl" style="left:1139.38px;top:767.4px;height:33.3px"></div>
<div class="hl" style="top:121.8px"></div>
<div class="hl" style="top:146px"></div>
<div class="hl" style="top:177px"></div>
<div class="hl" style="top:210.11px"></div>
<div class="hl" style="top:243.22px"></div>
<div class="hl" style="top:276.33px"></div>
<div class="hl" style="top:309.44px"></div>
<div class="hl t" style="top:342.05px"></div>
<div class="hl" style="top:375.66px"></div>
<div class="hl" style="top:408.77px"></div>
<div class="hl" style="top:441.88px"></div>
<div class="hl" style="top:474.99px"></div>
<div class="hl" style="top:508.1px"></div>
<div class="hl" style="top:567.1px"></div>
<div class="hl" style="top:600.4px"></div>
<div class="hl" style="top:633.7px"></div>
<div class="hl" style="top:667px"></div>
<div class="hl t" style="top:699.8px"></div>
<div class="hl" style="top:733.6px"></div>
<div class="hl" style="top:766.9px"></div>
<div class="hl" style="top:800.2px"></div>
<div class="hl t" style="top:533.3px"></div>
<div class="abs" style="left:0;top:210.11px;width:117px;height:1px;background:#6a4410"></div>
<div class="abs" style="left:0;top:243.22px;width:117px;height:1px;background:#6a4410"></div>
<div class="abs" style="left:0;top:276.33px;width:117px;height:1px;background:#6a4410"></div>
<div class="abs" style="left:0;top:309.44px;width:117px;height:1px;background:#6a4410"></div>
<div class="abs" style="left:0;top:375.66px;width:117px;height:1px;background:#6a4410"></div>
<div class="abs" style="left:0;top:408.77px;width:117px;height:1px;background:#6a4410"></div>
<div class="abs" style="left:0;top:441.88px;width:117px;height:1px;background:#6a4410"></div>
<div class="abs" style="left:0;top:474.99px;width:117px;height:1px;background:#6a4410"></div>
<div class="abs" style="left:0;top:567.1px;width:117px;height:1px;background:#6a4410"></div>
<div class="abs" style="left:0;top:600.4px;width:117px;height:1px;background:#6a4410"></div>
<div class="abs" style="left:0;top:633.7px;width:117px;height:1px;background:#6a4410"></div>
<div class="abs" style="left:0;top:667px;width:117px;height:1px;background:#6a4410"></div>
<div class="abs" style="left:0;top:733.6px;width:117px;height:1px;background:#6a686b"></div>
<div class="abs" style="left:0;top:766.9px;width:117px;height:1px;background:#6a686b"></div>
<div class="abs" style="left:0;top:800.2px;width:117px;height:1px;background:#6a686b"></div>
<div class="res r ctr" style="left:154.78px;top:210.01px;width:109.3px;height:33.41px;padding-top:10.3px">Flores, Ali</div>
<div class="res d" style="left:1060.52px;top:210.01px;width:37.05px;height:33.41px;padding-top:10.3px">MITCHELL</div>
<div class="res r" style="left:233.54px;top:276.23px;width:73.17px;height:33.41px;padding-top:10.3px">Hammond</div>
<div class="res r" style="left:548.58px;top:276.23px;width:73.17px;height:33.41px;padding-top:10.3px">Rae, Holmes</div>
<div class="res d" style="left:1060.52px;top:276.23px;width:37.05px;height:33.41px;padding-top:10.3px">Stub</div>
<div class="res r ctr" style="left:117px;top:343.65px;width:144.06px;height:32.21px;padding-top:9.1px">Jones, Sarah</div>
<div class="res r" style="left:863.62px;top:343.65px;width:37.05px;height:32.21px;padding-top:9.1px">Burton</div>
<div class="res d" style="left:233.54px;top:701.4px;width:37.05px;height:32.4px;padding-top:9.1px">GONZ</div>
<div class="res r" style="left:1021.14px;top:701.4px;width:37.05px;height:32.4px;padding-top:9.1px">Zimmer</div>
<div class="res r" style="left:194.16px;top:733.5px;width:109.3px;height:33.6px;padding-top:10.3px">Salazar, Ruben</div>
<div class="res d" style="left:1099.9px;top:733.5px;width:37.05px;height:33.6px;padding-top:10.3px">CRUZ</div>
<div class="vl" style="left:0;top:122.3px;height:669.7px;background:#777"></div>
</div>
</body></html>
